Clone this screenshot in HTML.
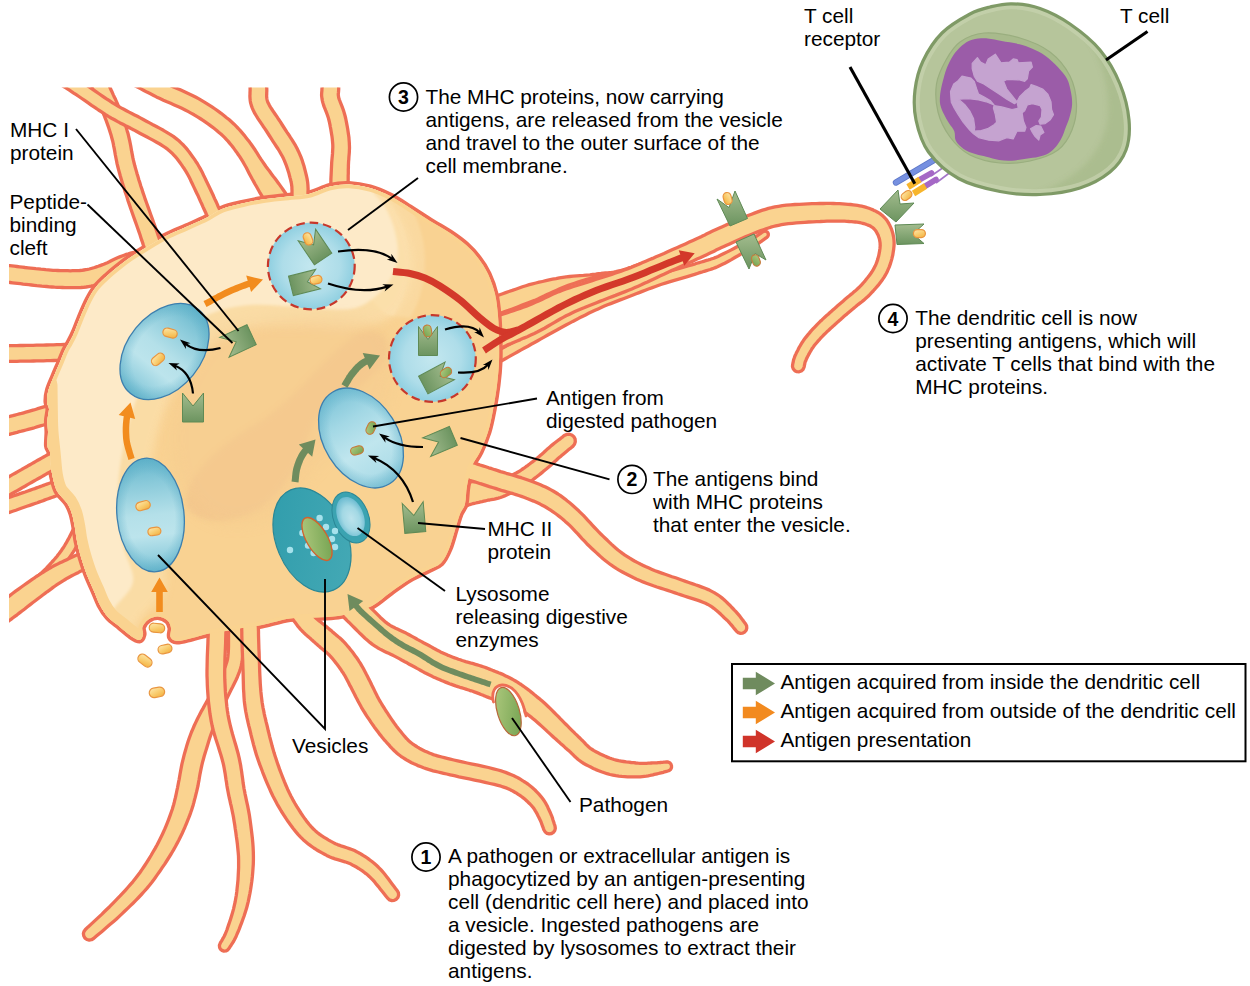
<!DOCTYPE html>
<html lang="en"><head><meta charset="utf-8"><title>Antigen presentation by a dendritic cell</title>
<style>
html,body{margin:0;padding:0;background:#fff;}
body{width:1250px;height:986px;overflow:hidden;font-family:"Liberation Sans",Arial,Helvetica,sans-serif;}
svg{display:block;}
</style></head><body>
<svg width="1250" height="986" viewBox="0 0 1250 986" role="img" aria-label="Antigen presentation by a dendritic cell"><defs>
<clipPath id="cellclip"><rect x="9" y="87.5" width="1241" height="900"/></clipPath>
<radialGradient id="gBlue" cx="0.5" cy="0.55" r="0.62">
 <stop offset="0" stop-color="#BCE3EC"/><stop offset="0.5" stop-color="#A2D8E4"/><stop offset="0.85" stop-color="#6FBDD2"/><stop offset="1" stop-color="#58AEC6"/>
</radialGradient>
<radialGradient id="gBlue2" cx="0.5" cy="0.5" r="0.55">
 <stop offset="0" stop-color="#C3E7EF"/><stop offset="0.6" stop-color="#AEDDE9"/><stop offset="1" stop-color="#86CBDE"/>
</radialGradient>
<linearGradient id="gGreen" x1="0" y1="0" x2="0" y2="1">
 <stop offset="0" stop-color="#A3BC8E"/><stop offset="1" stop-color="#6C9460"/>
</linearGradient>
<linearGradient id="gAnt" x1="0" y1="0" x2="0.6" y2="1">
 <stop offset="0" stop-color="#FDE8B0"/><stop offset="0.5" stop-color="#FAD27A"/><stop offset="1" stop-color="#F5B84A"/>
</linearGradient>
<linearGradient id="gAntG" x1="0" y1="0" x2="1" y2="1">
 <stop offset="0" stop-color="#B2CB80"/><stop offset="1" stop-color="#6FA04E"/>
</linearGradient>
<radialGradient id="gTcell" cx="0.45" cy="0.5" r="0.6">
 <stop offset="0" stop-color="#C3CEA8"/><stop offset="0.75" stop-color="#B7C59C"/><stop offset="1" stop-color="#A9BB8D"/>
</radialGradient>
<linearGradient id="gTeal" x1="0" y1="0" x2="1" y2="1">
 <stop offset="0" stop-color="#2F9CAB"/><stop offset="1" stop-color="#46AAB6"/>
</linearGradient>
<linearGradient id="gBlueL" x1="0" y1="0" x2="0" y2="1">
 <stop offset="0" stop-color="#65B6CC"/><stop offset="0.22" stop-color="#8ACADA"/><stop offset="0.5" stop-color="#B4E0E9"/><stop offset="0.68" stop-color="#BCE4EC"/><stop offset="0.88" stop-color="#93CFDE"/><stop offset="1" stop-color="#6CBACF"/>
</linearGradient>
<linearGradient id="gBlueL3" x1="0" y1="0" x2="0" y2="1">
 <stop offset="0" stop-color="#7CC3D7"/><stop offset="0.3" stop-color="#A3D8E5"/><stop offset="0.6" stop-color="#C0E6EE"/><stop offset="0.85" stop-color="#B0DEE9"/><stop offset="1" stop-color="#8FCDDD"/>
</linearGradient>
<radialGradient id="gEdge" cx="0.5" cy="0.5" r="0.5">
 <stop offset="0" stop-color="#4FA6C2" stop-opacity="0"/><stop offset="0.72" stop-color="#4FA6C2" stop-opacity="0"/><stop offset="1" stop-color="#4FA6C2" stop-opacity="0.38"/>
</radialGradient>
<filter id="blur8" x="-30%" y="-30%" width="160%" height="160%"><feGaussianBlur stdDeviation="7"/></filter>
<filter id="blur5" x="-30%" y="-30%" width="160%" height="160%"><feGaussianBlur stdDeviation="4"/></filter>
<filter id="blur3" x="-30%" y="-30%" width="160%" height="160%"><feGaussianBlur stdDeviation="2.5"/></filter>
<clipPath id="wedge"><path d="M345 170 L520 170 L520 300 C470 318 420 322 385 314 L372 300 L360 262 Z"/></clipPath>
<filter id="blur2" x="-30%" y="-30%" width="160%" height="160%"><feGaussianBlur stdDeviation="1.6"/></filter>
<clipPath id="bodyclip"><path d="M96.0 287.0C99.3 282.8 104.0 278.7 108.0 275.0C112.0 271.3 116.2 268.0 120.0 265.0C123.8 262.0 126.7 259.9 131.0 257.0C135.3 254.1 140.2 251.0 146.0 247.5C151.8 244.0 159.3 239.4 166.0 236.0C172.7 232.6 179.3 230.0 186.0 227.0C192.7 224.0 200.0 221.0 206.0 218.0C212.0 215.0 216.0 211.4 222.0 209.0C228.0 206.6 235.3 205.1 242.0 203.5C248.7 201.9 254.3 200.7 262.0 199.5C269.7 198.3 280.2 197.4 288.0 196.5C295.8 195.6 302.0 195.7 309.0 194.0C316.0 192.3 323.3 188.1 330.0 186.5C336.7 184.9 342.3 184.2 349.0 184.5C355.7 184.8 363.2 186.1 370.0 188.0C376.8 189.9 383.3 192.7 390.0 196.0C396.7 199.3 403.3 203.8 410.0 208.0C416.7 212.2 423.3 216.8 430.0 221.0C436.7 225.2 444.0 229.0 450.0 233.0C456.0 237.0 461.3 240.8 466.0 245.0C470.7 249.2 474.3 253.2 478.0 258.0C481.7 262.8 485.2 268.0 488.0 274.0C490.8 280.0 493.3 287.0 495.0 294.0C496.7 301.0 497.3 308.3 498.0 316.0C498.7 323.7 498.8 332.3 499.0 340.0C499.2 347.7 499.3 354.5 499.0 362.0C498.7 369.5 498.0 377.0 497.0 385.0C496.0 393.0 494.5 402.2 493.0 410.0C491.5 417.8 490.2 425.0 488.0 432.0C485.8 439.0 482.7 446.3 480.0 452.0C477.3 457.7 474.2 460.3 472.0 466.0C469.8 471.7 468.2 479.7 467.0 486.0C465.8 492.3 466.2 499.3 465.0 504.0C463.8 508.7 461.7 509.7 460.0 514.0C458.3 518.3 456.8 524.2 455.0 530.0C453.2 535.8 451.3 543.5 449.0 549.0C446.7 554.5 444.5 559.5 441.0 563.0C437.5 566.5 433.2 567.3 428.0 570.0C422.8 572.7 416.2 575.3 410.0 579.0C403.8 582.7 397.3 587.5 391.0 592.0C384.7 596.5 378.2 602.7 372.0 606.0C365.8 609.3 359.7 610.3 354.0 612.0C348.3 613.7 344.3 615.1 338.0 616.0C331.7 616.9 324.0 617.1 316.0 617.5C308.0 617.9 299.0 617.2 290.0 618.5C281.0 619.8 270.0 623.4 262.0 625.0C254.0 626.6 248.0 627.0 242.0 628.0C236.0 629.0 231.5 630.1 226.0 631.0C220.5 631.9 214.7 632.3 209.0 633.5C203.3 634.7 197.3 636.8 192.0 638.0C186.7 639.2 180.6 641.2 177.0 641.0C173.4 640.8 171.5 639.2 170.5 637.0C169.5 634.8 171.5 630.8 171.0 628.0C170.5 625.2 169.7 622.4 167.5 620.5C165.3 618.6 161.2 616.7 158.0 616.5C154.8 616.3 151.1 617.8 148.5 619.5C145.9 621.2 143.4 624.5 142.5 627.0C141.6 629.5 143.5 632.3 143.0 634.5C142.5 636.7 141.5 639.8 139.5 640.0C137.5 640.2 134.2 638.2 131.0 636.0C127.8 633.8 123.8 630.2 120.0 627.0C116.2 623.8 111.3 620.7 108.0 617.0C104.7 613.3 102.3 609.3 100.0 605.0C97.7 600.7 96.2 596.0 94.0 591.0C91.8 586.0 89.2 580.7 87.0 575.0C84.8 569.3 82.7 562.7 81.0 557.0C79.3 551.3 78.0 545.8 77.0 541.0C76.0 536.2 75.8 532.5 75.0 528.0C74.2 523.5 73.3 518.2 72.0 514.0C70.7 509.8 69.5 506.8 67.0 503.0C64.5 499.2 59.4 495.5 57.0 491.0C54.6 486.5 53.6 480.8 52.5 476.0C51.4 471.2 50.9 466.0 50.5 462.0C50.1 458.0 50.5 454.7 50.0 452.0C49.5 449.3 47.8 449.3 47.5 446.0C47.2 442.7 48.0 436.3 48.0 432.0C48.0 427.7 47.3 423.8 47.5 420.0C47.7 416.2 49.1 412.0 49.0 409.0C48.9 406.0 47.1 405.2 47.0 402.0C46.9 398.8 47.3 394.3 48.5 390.0C49.7 385.7 52.1 380.7 54.0 376.0C55.9 371.3 58.2 366.3 60.0 362.0C61.8 357.7 63.5 353.2 65.0 350.0C66.5 346.8 67.5 345.8 69.0 343.0C70.5 340.2 72.2 337.2 74.0 333.0C75.8 328.8 77.7 323.5 80.0 318.0C82.3 312.5 85.3 305.2 88.0 300.0C90.7 294.8 92.7 291.2 96.0 287.0Z"/></clipPath>
</defs>
<g clip-path="url(#cellclip)"><path d="M126.2 81.2L129.2 82.7L132.1 84.3L135.1 85.8L138.0 87.4L140.9 88.9L143.9 90.5L146.9 92.1L150.0 93.6L153.2 95.2L156.4 96.9L159.9 98.5L163.4 100.2L167.0 101.8L170.7 103.3L174.3 104.9L177.9 106.5L181.3 108.1L184.7 109.7L187.9 111.4L191.0 113.1L194.1 114.8L197.1 116.7L200.1 118.5L203.0 120.4L205.9 122.4L208.7 124.3L211.4 126.3L214.0 128.3L216.4 130.2L218.7 132.2L220.9 134.0L222.9 135.9L224.7 137.7L226.5 139.6L228.2 141.4L229.8 143.4L231.4 145.3L233.1 147.4L234.7 149.6L236.4 151.9L238.0 154.2L239.7 156.6L241.3 159.2L243.0 161.9L244.6 164.7L246.2 167.5L247.7 170.5L249.2 173.4L250.7 176.2L252.2 179.0L253.7 181.6L255.1 184.2L256.6 186.8L258.0 189.3L259.4 191.8L260.8 194.1L262.1 196.4L263.4 198.6L264.6 200.8L265.8 202.8L266.8 204.7L267.8 206.5L268.7 208.2L269.6 209.9L270.4 211.6L271.3 213.2L272.1 214.8L273.0 216.5L273.9 218.2L274.8 220.0L277.8 223.4L282.0 225.5L286.6 225.7L291.0 224.2L294.4 221.2L296.5 217.0L296.7 212.4L295.2 208.0L294.2 206.4L293.2 204.9L292.2 203.3L291.2 201.8L290.2 200.2L289.1 198.5L288.0 196.8L286.8 195.1L285.6 193.2L284.2 191.2L282.8 189.2L281.3 187.1L279.7 184.9L278.1 182.7L276.5 180.5L274.8 178.2L273.0 176.0L271.3 173.7L269.6 171.3L267.8 169.0L266.1 166.7L264.4 164.2L262.6 161.6L260.7 158.9L258.9 156.1L257.1 153.2L255.3 150.3L253.4 147.5L251.5 144.8L249.6 142.1L247.7 139.7L245.9 137.4L244.1 135.1L242.2 132.9L240.3 130.7L238.3 128.5L236.3 126.4L234.1 124.2L231.7 122.0L229.3 119.8L226.6 117.7L223.9 115.5L221.1 113.3L218.1 111.2L215.1 109.0L212.0 106.9L208.8 104.9L205.6 102.9L202.3 100.9L199.0 98.9L195.5 97.0L191.9 95.2L188.2 93.5L184.5 91.8L180.8 90.1L177.2 88.5L173.6 86.9L170.1 85.4L166.8 83.9L163.6 82.3L160.4 80.8L157.4 79.2L154.4 77.7L151.4 76.1L148.5 74.6L145.6 73.0L142.6 71.5L139.7 69.9L136.7 68.4L133.8 66.8Z" fill="#FAD390" stroke="#EE6E55" stroke-width="3.3" stroke-linejoin="round"/>
<path d="M322.7 69.7L322.6 71.5L322.5 73.3L322.5 75.2L322.4 77.0L322.3 78.9L322.2 80.7L322.2 82.5L322.1 84.2L322.1 85.9L322.1 87.4L322.0 88.5L321.9 89.5L321.9 90.5L321.8 91.5L321.7 92.7L321.6 94.1L321.6 95.6L321.8 97.2L322.0 98.9L322.4 100.8L322.9 102.9L323.5 104.9L324.2 106.9L325.0 108.8L325.7 110.7L326.5 112.6L327.2 114.5L327.8 116.3L328.4 118.1L328.9 120.0L329.4 122.1L329.9 124.4L330.3 126.7L330.8 129.2L331.2 131.7L331.6 134.2L332.0 136.6L332.3 139.0L332.5 141.3L332.7 143.5L332.8 145.5L332.8 147.5L332.7 149.6L332.6 151.6L332.5 153.7L332.3 155.8L332.1 157.9L331.9 160.1L331.7 162.4L331.6 164.6L331.5 166.8L331.4 168.9L331.3 171.0L331.2 173.1L331.1 175.2L331.0 177.2L330.9 179.2L330.9 181.1L330.8 183.0L330.7 184.8L330.7 186.5L330.6 188.1L330.5 189.6L330.5 191.1L330.4 192.6L330.4 194.0L330.3 195.4L330.3 196.9L330.2 198.3L330.2 199.8L330.7 203.2L332.6 206.1L335.4 208.1L338.8 208.8L342.2 208.3L345.1 206.4L347.1 203.6L347.8 200.2L347.9 198.8L347.9 197.3L347.9 195.9L347.9 194.5L348.0 193.0L348.0 191.6L348.0 190.1L348.0 188.6L348.0 186.9L348.1 185.2L348.1 183.5L348.1 181.6L348.2 179.7L348.2 177.7L348.2 175.7L348.3 173.6L348.3 171.6L348.3 169.5L348.4 167.4L348.4 165.4L348.5 163.4L348.6 161.4L348.8 159.3L348.9 157.2L349.1 154.9L349.3 152.6L349.4 150.2L349.5 147.7L349.4 145.1L349.3 142.5L349.1 139.8L348.9 137.2L348.5 134.4L348.1 131.7L347.7 129.0L347.2 126.2L346.7 123.6L346.2 121.0L345.7 118.5L345.1 116.0L344.4 113.5L343.7 111.1L342.9 108.8L342.1 106.6L341.3 104.6L340.5 102.7L339.9 101.0L339.3 99.5L338.9 98.2L338.6 97.2L338.5 96.2L338.4 95.5L338.3 94.9L338.3 94.3L338.3 93.7L338.4 93.0L338.5 92.0L338.6 90.8L338.7 89.4L338.7 87.8L338.8 86.3L338.8 84.7L338.9 83.1L338.9 81.3L339.0 79.5L339.1 77.7L339.1 75.8L339.2 73.9L339.3 72.1L339.3 70.3Z" fill="#FAD390" stroke="#EE6E55" stroke-width="3.3" stroke-linejoin="round"/>
<path d="M-5.6 281.3L-4.2 281.4L-2.9 281.5L-1.6 281.6L-0.4 281.6L0.7 281.7L2.0 281.8L3.3 281.9L4.7 282.0L6.3 282.1L8.2 282.3L10.2 282.5L12.5 282.8L15.0 283.1L17.6 283.4L20.3 283.7L23.1 284.1L25.9 284.4L28.7 284.7L31.5 285.0L34.2 285.3L36.7 285.6L39.2 285.8L41.8 286.1L44.3 286.3L46.8 286.5L49.4 286.8L51.9 287.0L54.5 287.2L57.1 287.3L59.7 287.4L62.3 287.5L64.9 287.6L67.5 287.6L70.2 287.7L72.9 287.7L75.6 287.7L78.2 287.6L80.9 287.5L83.5 287.3L86.1 287.0L88.6 286.6L91.0 286.2L93.3 285.7L95.6 285.1L97.7 284.5L99.8 283.9L101.9 283.2L103.9 282.5L105.9 281.8L108.0 281.1L110.2 280.2L112.5 279.2L114.6 278.3L116.7 277.3L118.8 276.3L120.8 275.3L122.7 274.4L124.5 273.5L126.3 272.7L128.0 272.0L129.8 271.4L131.7 270.8L133.5 270.2L135.4 269.6L137.3 269.1L139.3 268.5L141.3 268.0L143.3 267.4L145.4 266.9L147.4 266.3L150.4 264.7L152.5 262.1L153.6 258.9L153.3 255.6L151.7 252.6L149.1 250.5L145.9 249.4L142.6 249.7L140.6 250.3L138.7 250.9L136.7 251.4L134.7 252.0L132.7 252.5L130.6 253.1L128.5 253.8L126.3 254.4L124.2 255.2L122.0 256.0L119.7 256.9L117.5 257.8L115.3 258.8L113.2 259.8L111.2 260.8L109.3 261.8L107.4 262.7L105.5 263.5L103.8 264.3L102.0 264.9L100.1 265.6L98.2 266.3L96.4 266.9L94.6 267.5L92.9 268.0L91.2 268.5L89.4 269.0L87.6 269.4L85.8 269.7L83.9 270.0L81.9 270.3L79.7 270.5L77.5 270.6L75.2 270.7L72.7 270.7L70.3 270.8L67.8 270.7L65.3 270.7L62.8 270.6L60.3 270.6L57.9 270.5L55.5 270.4L53.1 270.3L50.7 270.1L48.3 269.9L45.8 269.7L43.4 269.4L40.9 269.2L38.4 268.9L35.8 268.7L33.3 268.4L30.6 268.1L27.9 267.8L25.1 267.5L22.3 267.1L19.6 266.8L16.9 266.5L14.4 266.2L12.0 265.9L9.8 265.7L7.9 265.5L6.1 265.4L4.5 265.2L3.1 265.1L1.8 265.0L0.5 265.0L-0.7 264.9L-1.9 264.8L-3.1 264.8L-4.4 264.7Z" fill="#FAD390" stroke="#EE6E55" stroke-width="3.3" stroke-linejoin="round"/>
<path d="M-5.0 361.3L-3.7 361.4L-2.5 361.4L-1.4 361.4L-0.3 361.4L0.9 361.4L2.2 361.4L3.6 361.4L5.2 361.4L7.0 361.4L9.1 361.3L11.5 361.3L14.1 361.3L17.0 361.3L20.1 361.2L23.3 361.2L26.6 361.1L30.0 361.1L33.4 361.0L36.8 360.9L40.2 360.8L43.5 360.8L47.0 360.7L50.4 360.6L53.9 360.5L57.5 360.4L61.0 360.3L64.6 360.2L68.2 360.1L71.7 359.9L75.2 359.8L78.2 359.2L80.7 357.4L82.3 354.8L82.8 351.8L82.2 348.8L80.4 346.3L77.8 344.7L74.8 344.2L71.3 344.3L67.7 344.4L64.1 344.5L60.6 344.6L57.0 344.7L53.5 344.8L50.0 344.9L46.5 345.0L43.1 345.1L39.8 345.2L36.5 345.2L33.1 345.3L29.7 345.4L26.4 345.4L23.1 345.5L19.9 345.5L16.8 345.6L13.9 345.6L11.3 345.6L8.9 345.7L6.8 345.7L5.1 345.7L3.5 345.7L2.2 345.7L1.0 345.7L-0.2 345.7L-1.3 345.7L-2.4 345.7L-3.7 345.7L-5.0 345.7Z" fill="#FAD390" stroke="#EE6E55" stroke-width="3.3" stroke-linejoin="round"/>
<path d="M-2.9 437.3L-1.6 437.0L-0.2 436.7L1.0 436.4L2.3 436.0L3.6 435.7L5.0 435.4L6.4 435.0L7.9 434.7L9.4 434.3L11.1 433.8L13.0 433.4L15.0 432.8L17.1 432.3L19.2 431.7L21.5 431.2L23.7 430.6L26.0 430.0L28.2 429.4L30.3 428.8L32.3 428.3L34.2 427.8L36.0 427.2L37.8 426.7L39.5 426.2L41.2 425.7L42.8 425.2L44.4 424.7L46.0 424.2L47.7 423.8L49.4 423.3L51.1 422.8L52.9 422.3L54.6 421.8L56.4 421.3L58.2 420.8L60.0 420.3L61.9 419.8L63.7 419.3L65.5 418.8L67.3 418.3L70.3 416.8L72.5 414.2L73.5 411.0L73.3 407.7L71.8 404.7L69.2 402.5L66.0 401.5L62.7 401.7L60.9 402.2L59.1 402.7L57.3 403.2L55.5 403.7L53.6 404.2L51.8 404.7L50.0 405.2L48.2 405.7L46.4 406.2L44.6 406.7L42.9 407.2L41.2 407.7L39.5 408.2L37.8 408.7L36.2 409.2L34.6 409.7L32.9 410.2L31.2 410.7L29.5 411.2L27.7 411.7L25.8 412.2L23.7 412.8L21.6 413.4L19.4 413.9L17.1 414.5L14.9 415.1L12.8 415.7L10.7 416.2L8.7 416.7L6.9 417.2L5.2 417.6L3.6 418.0L2.2 418.4L0.8 418.7L-0.5 419.0L-1.8 419.3L-3.1 419.7L-4.4 420.0L-5.7 420.3L-7.1 420.7Z" fill="#FAD390" stroke="#EE6E55" stroke-width="3.3" stroke-linejoin="round"/>
<path d="M-2.8 516.3L-1.5 515.8L-0.3 515.4L0.9 515.1L2.1 514.7L3.4 514.3L4.7 513.9L6.1 513.4L7.6 512.9L9.4 512.4L11.3 511.7L13.4 511.0L15.9 510.2L18.5 509.3L21.2 508.3L24.1 507.3L26.9 506.3L29.7 505.4L32.5 504.4L35.0 503.5L37.4 502.7L39.5 501.9L41.5 501.2L43.3 500.6L45.0 499.9L46.7 499.3L48.3 498.7L50.0 498.1L51.7 497.5L53.5 496.9L55.3 496.2L57.4 495.5L59.5 494.8L61.6 494.0L63.8 493.3L66.0 492.5L68.3 491.8L70.5 491.0L72.8 490.2L75.1 489.5L77.3 488.7L79.7 487.3L81.4 485.1L82.1 482.5L81.7 479.7L80.3 477.3L78.1 475.6L75.5 474.9L72.7 475.3L70.5 476.0L68.3 476.8L66.0 477.6L63.7 478.3L61.5 479.1L59.2 479.8L57.0 480.6L54.8 481.3L52.7 482.1L50.7 482.8L48.7 483.5L46.9 484.1L45.1 484.8L43.5 485.4L41.8 486.0L40.1 486.6L38.4 487.2L36.6 487.9L34.7 488.6L32.6 489.3L30.3 490.1L27.8 491.0L25.1 492.0L22.3 492.9L19.4 493.9L16.6 494.9L13.9 495.8L11.3 496.7L8.9 497.5L6.7 498.3L4.9 498.9L3.2 499.4L1.7 499.9L0.4 500.4L-0.9 500.8L-2.1 501.1L-3.3 501.5L-4.5 501.9L-5.8 502.3L-7.2 502.7Z" fill="#FAD390" stroke="#EE6E55" stroke-width="3.3" stroke-linejoin="round"/>
<path d="M28.6 599.0L30.6 597.2L32.6 595.4L34.7 593.6L36.8 591.7L38.9 589.9L40.9 588.0L43.0 586.2L44.9 584.4L46.9 582.6L48.7 580.8L50.5 579.1L52.2 577.4L53.9 575.7L55.5 574.1L57.0 572.4L58.5 570.8L60.0 569.2L61.4 567.6L62.8 566.0L64.1 564.4L65.4 562.9L66.5 561.5L67.6 560.1L68.7 558.7L69.7 557.3L70.6 555.9L71.6 554.5L72.6 553.0L73.6 551.4L74.6 549.8L75.6 548.0L76.7 546.1L77.7 544.2L78.7 542.2L79.8 540.2L80.8 538.3L81.8 536.3L82.8 534.3L83.8 532.4L84.7 530.5L85.3 528.5L85.1 526.4L84.1 524.6L82.5 523.3L80.5 522.7L78.4 522.9L76.6 523.9L75.3 525.5L74.2 527.5L73.2 529.5L72.2 531.4L71.2 533.4L70.2 535.4L69.3 537.3L68.3 539.2L67.3 540.9L66.4 542.6L65.4 544.2L64.5 545.8L63.6 547.2L62.7 548.5L61.8 549.8L61.0 551.1L60.1 552.3L59.1 553.6L58.1 554.8L57.1 556.2L55.9 557.6L54.7 559.0L53.4 560.5L52.0 562.0L50.7 563.5L49.2 565.1L47.7 566.7L46.2 568.3L44.6 569.9L43.0 571.5L41.3 573.2L39.5 574.8L37.7 576.5L35.8 578.3L33.8 580.1L31.8 581.9L29.7 583.7L27.6 585.5L25.5 587.4L23.5 589.2L21.4 591.0Z" fill="#FAD390" stroke="#EE6E55" stroke-width="3.3" stroke-linejoin="round"/>
<path d="M0.9 626.9L2.3 625.9L3.5 624.9L4.7 624.0L5.9 623.1L7.2 622.2L8.4 621.2L9.8 620.2L11.3 619.1L13.0 617.8L14.9 616.4L17.1 614.8L19.5 612.9L22.0 611.0L24.7 609.0L27.4 606.8L30.2 604.6L32.9 602.5L35.6 600.5L38.2 598.5L40.6 596.7L42.8 595.0L45.0 593.4L47.1 591.8L49.2 590.3L51.2 588.9L53.1 587.4L55.1 586.0L57.0 584.7L59.0 583.4L61.0 582.1L63.0 580.8L65.2 579.5L67.3 578.2L69.6 577.0L71.8 575.8L74.1 574.6L76.3 573.5L78.5 572.4L80.5 571.3L82.5 570.4L84.3 569.5L86.0 568.7L87.5 567.9L89.0 567.2L90.5 566.6L92.0 565.9L93.5 565.3L95.0 564.6L96.5 563.9L98.1 563.2L100.6 561.5L102.3 558.9L102.8 555.9L102.2 552.9L100.5 550.4L97.9 548.7L94.9 548.2L91.9 548.8L90.3 549.4L88.8 550.0L87.3 550.6L85.8 551.2L84.3 551.9L82.7 552.5L81.0 553.2L79.3 554.0L77.4 554.8L75.5 555.6L73.5 556.6L71.3 557.6L69.1 558.6L66.8 559.7L64.4 560.8L61.9 562.0L59.4 563.1L56.9 564.4L54.5 565.6L52.0 566.9L49.7 568.2L47.4 569.6L45.2 570.9L43.0 572.3L40.8 573.6L38.6 575.1L36.3 576.5L34.1 578.1L31.8 579.6L29.4 581.3L26.9 583.1L24.2 585.0L21.4 587.0L18.5 589.1L15.6 591.2L12.8 593.3L10.1 595.3L7.5 597.2L5.2 599.0L3.1 600.6L1.2 602.0L-0.5 603.3L-2.0 604.4L-3.4 605.5L-4.7 606.4L-5.9 607.4L-7.1 608.3L-8.3 609.2L-9.6 610.1L-10.9 611.1Z" fill="#FAD390" stroke="#EE6E55" stroke-width="3.3" stroke-linejoin="round"/>
<path d="M459.0 509.2L460.3 508.6L461.7 508.0L463.0 507.4L464.2 506.9L465.3 506.4L466.4 505.9L467.5 505.5L468.5 505.0L469.6 504.7L470.6 504.3L471.7 504.0L473.0 503.6L474.3 503.3L475.8 503.0L477.3 502.6L478.8 502.3L480.5 501.9L482.1 501.6L483.8 501.2L485.4 500.8L486.8 500.5L488.1 500.2L489.6 500.0L491.1 499.7L492.8 499.4L494.5 499.1L496.4 498.6L498.4 498.1L500.5 497.5L502.6 496.7L504.6 495.9L506.6 495.0L508.7 494.0L510.8 493.0L512.9 491.9L515.1 490.8L517.3 489.7L519.5 488.5L521.7 487.3L523.8 486.0L526.0 484.6L528.2 483.1L530.3 481.6L532.5 480.0L534.6 478.4L536.7 476.8L538.7 475.2L540.7 473.6L542.6 472.1L544.4 470.5L546.3 469.0L548.1 467.5L549.9 466.0L551.6 464.5L553.2 463.0L554.8 461.5L556.3 460.2L557.8 458.8L559.2 457.6L560.6 456.4L561.9 455.3L563.2 454.2L564.4 453.2L565.6 452.2L566.8 451.2L567.9 450.3L569.1 449.3L570.3 448.4L571.5 447.4L572.8 446.4L574.5 444.3L575.3 441.8L575.1 439.1L573.9 436.7L571.8 435.0L569.3 434.2L566.6 434.4L564.2 435.6L563.0 436.6L561.8 437.5L560.6 438.4L559.4 439.4L558.2 440.3L556.9 441.3L555.6 442.3L554.3 443.3L552.9 444.4L551.4 445.6L549.9 446.9L548.4 448.2L546.8 449.6L545.3 451.0L543.7 452.5L542.1 453.9L540.5 455.3L538.9 456.7L537.3 458.1L535.6 459.5L533.7 460.9L531.8 462.3L529.9 463.8L527.9 465.3L525.9 466.7L523.9 468.2L521.9 469.5L520.0 470.8L518.0 472.0L516.2 473.0L514.3 474.0L512.4 475.0L510.4 475.9L508.5 476.8L506.6 477.6L504.6 478.3L502.7 478.9L500.9 479.4L499.1 479.9L497.4 480.3L496.0 480.5L494.7 480.7L493.4 480.8L492.1 480.9L490.7 480.9L489.3 480.9L487.8 480.9L486.1 481.0L484.4 481.1L482.6 481.2L481.0 481.3L479.4 481.4L477.8 481.4L476.1 481.5L474.4 481.6L472.6 481.7L470.8 481.9L469.0 482.1L467.2 482.4L465.4 482.7L463.6 483.1L461.9 483.5L460.3 484.0L458.7 484.4L457.3 484.9L455.9 485.3L454.6 485.7L453.4 486.1L452.2 486.5L451.0 486.8Z" fill="#FAD390" stroke="#EE6E55" stroke-width="3.3" stroke-linejoin="round"/>
<path d="M482.5 318.5L484.4 317.9L486.2 317.4L488.0 316.9L489.8 316.4L491.7 315.8L493.6 315.3L495.7 314.7L497.9 314.0L500.3 313.2L502.8 312.4L505.6 311.4L508.6 310.4L511.7 309.2L514.9 308.0L518.2 306.7L521.6 305.4L524.9 304.1L528.3 302.8L531.5 301.6L534.7 300.4L537.9 299.0L540.9 297.5L544.0 296.1L547.1 294.6L550.1 293.2L553.2 291.8L556.2 290.4L559.2 289.1L562.2 287.8L565.2 286.6L568.3 285.4L571.4 284.3L574.6 283.2L577.9 282.1L581.1 281.1L584.4 280.1L587.5 279.1L590.6 278.4L593.5 277.7L596.3 276.9L598.8 276.3L601.2 275.7L603.5 275.2L605.7 274.7L607.7 274.3L609.8 273.8L611.8 273.3L613.8 272.8L615.9 272.3L618.1 271.8L620.3 271.1L622.5 270.4L624.6 269.6L626.8 268.8L629.0 268.0L631.2 267.2L633.4 266.3L635.6 265.5L637.8 264.7L640.0 263.9L640.0 264.1L637.8 264.9L635.6 265.6L633.4 266.4L631.2 267.2L629.0 267.9L626.8 268.7L624.6 269.4L622.3 270.0L620.1 270.7L617.9 271.2L615.8 271.7L613.7 272.1L611.6 272.4L609.6 272.6L607.5 272.8L605.4 273.0L603.2 273.2L600.9 273.5L598.4 273.7L595.7 274.1L592.9 274.4L589.9 274.8L586.8 275.1L583.5 275.4L580.1 275.6L576.7 275.9L573.2 276.2L569.7 276.5L566.2 276.9L562.8 277.4L559.4 277.9L556.0 278.6L552.6 279.2L549.2 279.9L545.9 280.7L542.5 281.5L539.2 282.2L535.9 283.0L532.5 283.8L529.3 284.6L525.9 285.7L522.5 286.8L519.1 288.0L515.7 289.2L512.3 290.4L508.9 291.5L505.7 292.6L502.7 293.7L499.8 294.7L497.2 295.6L494.8 296.4L492.6 297.1L490.5 297.7L488.6 298.3L486.8 298.8L485.0 299.4L483.2 299.9L481.4 300.4L479.5 300.9L477.5 301.5Z" fill="#FAD390" stroke="#EE6E55" stroke-width="3.3" stroke-linejoin="round"/>
<path d="M482.7 371.6L484.6 370.5L486.5 369.4L488.3 368.4L490.1 367.3L491.9 366.3L493.8 365.2L495.8 364.0L497.9 362.8L500.1 361.6L502.6 360.2L505.3 358.7L508.2 357.1L511.3 355.4L514.5 353.6L517.8 351.8L521.1 349.9L524.5 348.0L527.9 346.2L531.2 344.3L534.5 342.5L537.7 340.7L540.9 338.9L544.1 337.1L547.3 335.3L550.5 333.5L553.7 331.7L556.9 330.0L560.0 328.2L563.2 326.5L566.4 324.8L569.6 323.1L572.8 321.4L576.0 319.8L579.1 318.1L582.3 316.5L585.5 314.9L588.6 313.3L591.8 311.8L595.0 310.3L598.1 308.9L601.2 307.5L604.4 306.1L607.5 304.8L610.7 303.6L613.8 302.4L617.0 301.1L620.2 299.9L623.4 298.7L626.6 297.5L629.8 296.3L633.0 295.0L636.1 293.8L639.2 292.6L642.3 291.4L645.3 290.2L648.4 289.0L651.6 287.9L654.8 286.7L658.1 285.5L661.6 284.3L665.3 283.1L669.3 281.9L673.5 280.6L677.8 279.4L682.2 278.1L686.5 276.8L690.6 275.6L694.6 274.4L698.2 273.2L701.5 272.2L704.2 271.3L706.5 270.6L708.5 270.0L710.3 269.5L712.0 268.9L713.7 268.3L715.4 267.6L717.4 266.8L719.5 265.8L722.0 264.6L724.8 263.2L728.0 261.5L731.4 259.6L734.9 257.5L738.5 255.5L742.0 253.4L745.4 251.4L748.5 249.4L751.4 247.7L753.9 246.2L755.9 244.9L757.7 243.8L759.2 242.8L760.5 241.9L761.7 241.1L762.7 240.3L763.7 239.6L764.7 238.9L765.7 238.1L766.9 237.3L767.8 236.4L768.3 235.2L768.3 233.9L767.8 232.6L766.9 231.7L765.7 231.2L764.4 231.2L763.1 231.7L761.9 232.5L760.7 233.3L759.7 234.0L758.7 234.6L757.7 235.3L756.6 236.0L755.4 236.8L753.9 237.7L752.2 238.6L750.1 239.8L747.6 241.1L744.7 242.7L741.5 244.5L738.0 246.3L734.4 248.2L730.8 250.1L727.3 251.9L723.9 253.6L720.8 255.1L718.0 256.4L715.7 257.4L713.7 258.2L712.0 258.8L710.5 259.3L709.0 259.7L707.5 260.2L705.7 260.7L703.7 261.3L701.3 262.0L698.5 262.8L695.3 263.8L691.7 264.8L687.8 265.9L683.6 267.1L679.3 268.3L674.9 269.6L670.6 270.9L666.3 272.1L662.2 273.4L658.4 274.7L654.8 275.9L651.4 277.1L648.1 278.3L644.8 279.5L641.7 280.7L638.6 281.9L635.5 283.1L632.4 284.3L629.3 285.5L626.2 286.7L623.0 288.0L619.8 289.2L616.6 290.4L613.4 291.6L610.2 292.8L606.9 294.1L603.7 295.4L600.4 296.7L597.2 298.1L593.9 299.5L590.6 301.0L587.4 302.6L584.2 304.2L580.9 305.8L577.7 307.4L574.5 309.1L571.2 310.7L568.0 312.4L564.8 314.1L561.6 315.8L558.4 317.5L555.2 319.3L551.9 321.0L548.7 322.8L545.5 324.6L542.3 326.4L539.1 328.2L535.9 330.0L532.7 331.8L529.5 333.5L526.3 335.3L522.9 337.1L519.5 338.9L516.1 340.7L512.7 342.5L509.4 344.3L506.2 346.0L503.1 347.7L500.1 349.3L497.4 350.8L494.9 352.2L492.6 353.5L490.5 354.7L488.5 355.9L486.6 357.0L484.7 358.1L482.9 359.1L481.1 360.2L479.3 361.2L477.3 362.4Z" fill="#FAD390" stroke="#EE6E55" stroke-width="3.3" stroke-linejoin="round"/>
<path d="M487.1 355.7L489.1 354.7L491.0 353.7L492.8 352.7L494.6 351.7L496.3 350.7L498.0 349.8L499.8 348.8L501.7 347.9L503.8 346.8L506.0 345.8L508.4 344.6L511.1 343.5L514.0 342.2L517.1 340.9L520.4 339.6L523.8 338.1L527.3 336.7L530.8 335.1L534.3 333.5L537.7 331.8L541.1 330.0L544.5 328.2L547.8 326.3L551.0 324.4L554.1 322.6L557.2 320.8L560.2 319.0L563.2 317.4L566.1 315.8L569.0 314.4L571.9 313.0L574.9 311.6L577.9 310.3L580.9 309.0L584.0 307.8L587.1 306.5L590.2 305.3L593.4 304.0L596.6 302.7L599.8 301.4L602.9 300.2L606.0 299.0L609.1 297.8L612.3 296.6L615.5 295.4L618.7 294.1L621.9 292.9L625.2 291.6L628.5 290.3L631.8 289.0L635.0 287.6L638.2 286.2L641.3 284.8L644.4 283.3L647.5 281.9L650.6 280.4L653.8 278.9L657.0 277.4L660.4 275.8L663.9 274.2L667.6 272.4L671.6 270.6L675.9 268.7L680.2 266.7L684.6 264.7L688.9 262.8L693.1 260.9L697.0 259.1L700.7 257.5L703.9 256.0L706.7 254.7L709.1 253.6L711.2 252.6L713.0 251.7L714.6 250.9L716.2 250.1L717.8 249.3L719.5 248.5L721.5 247.6L723.9 246.5L726.6 245.3L729.6 243.9L732.7 242.5L736.0 241.0L739.3 239.5L742.7 238.0L746.0 236.5L749.3 235.2L752.4 233.9L755.3 232.7L758.2 231.6L760.9 230.6L763.5 229.7L766.0 228.8L768.4 228.0L770.8 227.2L773.2 226.5L775.8 225.9L778.6 225.3L781.5 224.7L784.8 224.2L788.4 223.7L792.3 223.3L796.3 222.9L800.5 222.6L804.6 222.3L808.8 222.0L812.8 221.8L816.7 221.6L820.3 221.5L823.7 221.3L827.0 221.2L830.1 221.2L833.2 221.1L836.2 221.1L839.1 221.1L841.8 221.2L844.5 221.2L846.9 221.3L849.3 221.5L851.5 221.6L853.5 221.8L855.3 222.0L857.0 222.2L858.5 222.4L860.0 222.7L861.4 223.0L862.7 223.3L863.9 223.6L865.2 224.0L866.5 224.5L867.7 224.9L868.8 225.4L869.8 225.8L870.7 226.3L871.5 226.8L872.3 227.3L872.9 227.8L873.6 228.3L874.2 229.0L874.8 229.7L875.5 230.5L876.1 231.4L876.7 232.5L877.3 233.6L877.9 234.7L878.4 235.9L878.8 237.1L879.2 238.2L879.5 239.4L879.7 240.5L879.9 241.7L880.1 242.9L880.1 244.2L880.2 245.5L880.1 246.8L880.0 248.2L879.8 249.6L879.6 251.1L879.3 252.6L879.0 254.2L878.7 255.8L878.2 257.4L877.8 259.1L877.3 260.7L876.7 262.3L876.1 263.9L875.4 265.5L874.6 267.1L873.8 268.7L872.8 270.3L871.8 272.0L870.6 273.7L869.3 275.5L867.9 277.3L866.5 279.0L865.1 280.8L863.6 282.5L862.2 284.1L860.8 285.6L859.5 287.0L858.1 288.3L856.8 289.5L855.4 290.7L853.9 291.9L852.5 293.2L851.0 294.4L849.4 295.7L847.8 297.0L846.3 298.3L844.8 299.6L843.3 300.9L841.8 302.2L840.3 303.5L838.8 304.8L837.3 306.1L835.8 307.4L834.3 308.8L832.8 310.1L831.2 311.5L829.7 312.8L828.2 314.2L826.6 315.6L825.0 317.0L823.5 318.4L821.9 319.9L820.3 321.3L818.8 322.8L817.3 324.3L815.9 325.8L814.5 327.3L813.2 328.7L811.8 330.2L810.5 331.6L809.3 333.1L808.0 334.6L806.8 336.1L805.6 337.6L804.5 339.1L803.4 340.6L802.3 342.2L801.3 343.8L800.4 345.4L799.4 347.0L798.6 348.6L797.8 350.2L797.0 351.7L796.3 353.1L795.7 354.4L795.1 355.6L794.6 356.9L794.2 358.1L793.8 359.2L793.5 360.2L793.3 361.2L793.2 362.0L793.0 362.7L792.9 363.3L792.8 363.9L792.6 364.6L792.5 366.8L793.3 369.0L794.8 370.7L796.9 371.7L799.1 371.8L801.3 371.0L803.0 369.5L804.0 367.4L804.2 366.6L804.4 365.7L804.5 364.9L804.7 364.2L804.8 363.6L804.9 363.0L805.0 362.5L805.2 361.9L805.5 361.2L805.9 360.4L806.3 359.3L806.9 358.1L807.5 356.8L808.2 355.5L808.9 354.1L809.7 352.7L810.5 351.3L811.3 350.0L812.1 348.6L813.0 347.4L813.9 346.1L814.9 344.8L816.0 343.5L817.1 342.2L818.2 340.9L819.4 339.6L820.6 338.2L821.9 336.9L823.2 335.5L824.5 334.2L825.9 332.9L827.2 331.5L828.7 330.2L830.2 328.8L831.7 327.4L833.2 326.1L834.7 324.7L836.3 323.3L837.8 321.9L839.4 320.5L840.9 319.2L842.3 317.9L843.8 316.6L845.3 315.3L846.8 314.1L848.3 312.8L849.8 311.5L851.3 310.2L852.8 309.0L854.3 307.7L855.8 306.5L857.2 305.3L858.7 304.1L860.3 302.9L861.9 301.7L863.5 300.4L865.1 299.0L866.7 297.6L868.4 296.0L870.0 294.4L871.6 292.7L873.2 291.0L874.8 289.2L876.4 287.3L878.1 285.4L879.6 283.4L881.1 281.4L882.6 279.4L884.0 277.3L885.2 275.3L886.4 273.2L887.4 271.2L888.3 269.1L889.2 267.1L889.9 265.1L890.6 263.1L891.2 261.1L891.8 259.1L892.2 257.2L892.7 255.4L893.0 253.5L893.3 251.6L893.6 249.8L893.8 247.9L894.0 246.0L894.1 244.1L894.1 242.3L894.0 240.4L893.8 238.5L893.5 236.6L893.1 234.7L892.7 232.9L892.1 231.0L891.5 229.2L890.7 227.4L889.9 225.6L889.0 223.9L888.0 222.2L887.0 220.6L885.8 219.0L884.5 217.6L883.2 216.3L881.7 215.0L880.3 213.9L878.8 212.9L877.2 212.0L875.6 211.1L874.0 210.4L872.4 209.6L870.8 209.0L869.0 208.3L867.3 207.7L865.5 207.1L863.6 206.6L861.7 206.2L859.7 205.8L857.6 205.4L855.5 205.1L853.2 204.8L850.7 204.5L848.1 204.3L845.4 204.1L842.6 203.9L839.6 203.7L836.5 203.6L833.4 203.5L830.1 203.4L826.7 203.4L823.2 203.5L819.7 203.5L816.0 203.6L812.1 203.7L807.9 203.9L803.6 204.1L799.3 204.3L794.9 204.5L790.6 204.9L786.4 205.2L782.3 205.7L778.5 206.3L774.9 206.9L771.6 207.7L768.4 208.4L765.5 209.3L762.6 210.2L759.8 211.1L757.1 212.1L754.4 213.1L751.6 214.2L748.7 215.3L745.5 216.5L742.1 217.9L738.6 219.3L735.1 220.9L731.7 222.4L728.3 223.9L725.0 225.5L721.8 226.9L718.8 228.3L716.1 229.5L713.7 230.6L711.6 231.6L709.7 232.5L708.0 233.3L706.4 234.1L704.8 234.9L703.0 235.7L701.1 236.7L698.8 237.8L696.1 239.0L692.9 240.5L689.3 242.1L685.4 243.9L681.2 245.8L676.9 247.7L672.6 249.6L668.2 251.6L664.0 253.5L659.9 255.2L656.1 256.8L652.6 258.4L649.1 259.8L645.8 261.2L642.6 262.6L639.5 263.9L636.4 265.2L633.4 266.5L630.4 267.7L627.3 268.9L624.2 270.0L621.1 271.2L618.0 272.3L614.9 273.3L611.7 274.4L608.5 275.4L605.3 276.4L602.1 277.4L598.8 278.4L595.5 279.5L592.2 280.6L589.0 281.6L585.8 282.6L582.6 283.6L579.3 284.6L576.0 285.7L572.7 286.7L569.3 287.9L565.9 289.0L562.5 290.3L559.0 291.6L555.5 293.1L552.0 294.6L548.6 296.2L545.2 297.8L541.9 299.4L538.6 300.9L535.4 302.3L532.3 303.7L529.3 305.0L526.3 306.2L523.2 307.3L520.1 308.4L516.8 309.5L513.4 310.7L510.1 311.8L506.7 312.9L503.4 313.9L500.2 315.0L497.0 316.1L494.0 317.2L491.3 318.3L488.7 319.3L486.4 320.3L484.2 321.2L482.2 322.1L480.3 323.0L478.4 323.8L476.6 324.6L474.8 325.4L472.9 326.3Z" fill="#FAD390" stroke="#EE6E55" stroke-width="3.3" stroke-linejoin="round"/>
<path d="M96.0 287.0C99.3 282.8 104.0 278.7 108.0 275.0C112.0 271.3 116.2 268.0 120.0 265.0C123.8 262.0 126.7 259.9 131.0 257.0C135.3 254.1 140.2 251.0 146.0 247.5C151.8 244.0 159.3 239.4 166.0 236.0C172.7 232.6 179.3 230.0 186.0 227.0C192.7 224.0 200.0 221.0 206.0 218.0C212.0 215.0 216.0 211.4 222.0 209.0C228.0 206.6 235.3 205.1 242.0 203.5C248.7 201.9 254.3 200.7 262.0 199.5C269.7 198.3 280.2 197.4 288.0 196.5C295.8 195.6 302.0 195.7 309.0 194.0C316.0 192.3 323.3 188.1 330.0 186.5C336.7 184.9 342.3 184.2 349.0 184.5C355.7 184.8 363.2 186.1 370.0 188.0C376.8 189.9 383.3 192.7 390.0 196.0C396.7 199.3 403.3 203.8 410.0 208.0C416.7 212.2 423.3 216.8 430.0 221.0C436.7 225.2 444.0 229.0 450.0 233.0C456.0 237.0 461.3 240.8 466.0 245.0C470.7 249.2 474.3 253.2 478.0 258.0C481.7 262.8 485.2 268.0 488.0 274.0C490.8 280.0 493.3 287.0 495.0 294.0C496.7 301.0 497.3 308.3 498.0 316.0C498.7 323.7 498.8 332.3 499.0 340.0C499.2 347.7 499.3 354.5 499.0 362.0C498.7 369.5 498.0 377.0 497.0 385.0C496.0 393.0 494.5 402.2 493.0 410.0C491.5 417.8 490.2 425.0 488.0 432.0C485.8 439.0 482.7 446.3 480.0 452.0C477.3 457.7 474.2 460.3 472.0 466.0C469.8 471.7 468.2 479.7 467.0 486.0C465.8 492.3 466.2 499.3 465.0 504.0C463.8 508.7 461.7 509.7 460.0 514.0C458.3 518.3 456.8 524.2 455.0 530.0C453.2 535.8 451.3 543.5 449.0 549.0C446.7 554.5 444.5 559.5 441.0 563.0C437.5 566.5 433.2 567.3 428.0 570.0C422.8 572.7 416.2 575.3 410.0 579.0C403.8 582.7 397.3 587.5 391.0 592.0C384.7 596.5 378.2 602.7 372.0 606.0C365.8 609.3 359.7 610.3 354.0 612.0C348.3 613.7 344.3 615.1 338.0 616.0C331.7 616.9 324.0 617.1 316.0 617.5C308.0 617.9 299.0 617.2 290.0 618.5C281.0 619.8 270.0 623.4 262.0 625.0C254.0 626.6 248.0 627.0 242.0 628.0C236.0 629.0 231.5 630.1 226.0 631.0C220.5 631.9 214.7 632.3 209.0 633.5C203.3 634.7 197.3 636.8 192.0 638.0C186.7 639.2 180.6 641.2 177.0 641.0C173.4 640.8 171.5 639.2 170.5 637.0C169.5 634.8 171.5 630.8 171.0 628.0C170.5 625.2 169.7 622.4 167.5 620.5C165.3 618.6 161.2 616.7 158.0 616.5C154.8 616.3 151.1 617.8 148.5 619.5C145.9 621.2 143.4 624.5 142.5 627.0C141.6 629.5 143.5 632.3 143.0 634.5C142.5 636.7 141.5 639.8 139.5 640.0C137.5 640.2 134.2 638.2 131.0 636.0C127.8 633.8 123.8 630.2 120.0 627.0C116.2 623.8 111.3 620.7 108.0 617.0C104.7 613.3 102.3 609.3 100.0 605.0C97.7 600.7 96.2 596.0 94.0 591.0C91.8 586.0 89.2 580.7 87.0 575.0C84.8 569.3 82.7 562.7 81.0 557.0C79.3 551.3 78.0 545.8 77.0 541.0C76.0 536.2 75.8 532.5 75.0 528.0C74.2 523.5 73.3 518.2 72.0 514.0C70.7 509.8 69.5 506.8 67.0 503.0C64.5 499.2 59.4 495.5 57.0 491.0C54.6 486.5 53.6 480.8 52.5 476.0C51.4 471.2 50.9 466.0 50.5 462.0C50.1 458.0 50.5 454.7 50.0 452.0C49.5 449.3 47.8 449.3 47.5 446.0C47.2 442.7 48.0 436.3 48.0 432.0C48.0 427.7 47.3 423.8 47.5 420.0C47.7 416.2 49.1 412.0 49.0 409.0C48.9 406.0 47.1 405.2 47.0 402.0C46.9 398.8 47.3 394.3 48.5 390.0C49.7 385.7 52.1 380.7 54.0 376.0C55.9 371.3 58.2 366.3 60.0 362.0C61.8 357.7 63.5 353.2 65.0 350.0C66.5 346.8 67.5 345.8 69.0 343.0C70.5 340.2 72.2 337.2 74.0 333.0C75.8 328.8 77.7 323.5 80.0 318.0C82.3 312.5 85.3 305.2 88.0 300.0C90.7 294.8 92.7 291.2 96.0 287.0Z" fill="#FAD390" stroke="#EE6E55" stroke-width="7.1" stroke-linejoin="round"/>
<path d="M88.9 74.0L89.2 75.4L89.5 76.8L89.8 78.2L90.1 79.6L90.5 81.2L90.9 82.8L91.3 84.6L91.8 86.4L92.4 88.4L93.2 90.5L94.0 92.7L95.0 94.9L96.0 97.2L97.1 99.5L98.1 101.7L99.2 104.0L100.3 106.3L101.3 108.6L102.3 110.8L103.2 113.1L104.2 115.5L105.1 117.9L106.1 120.4L107.0 122.9L107.9 125.4L108.8 127.9L109.6 130.5L110.4 133.0L111.2 135.6L111.9 138.2L112.6 140.7L113.2 143.3L113.7 146.1L114.3 148.9L114.8 151.7L115.3 154.7L115.9 157.7L116.5 160.8L117.1 163.9L117.9 167.0L118.7 170.1L119.5 173.0L120.3 176.0L121.2 179.0L122.1 181.9L123.0 184.9L124.0 188.0L124.9 191.1L126.0 194.3L127.1 197.6L128.2 201.2L129.5 204.9L130.8 208.8L132.2 212.7L133.6 216.7L135.0 220.6L136.4 224.5L137.7 228.2L138.9 231.6L140.0 234.8L140.9 237.7L141.8 240.4L142.7 242.9L143.4 245.2L144.2 247.5L144.9 249.7L145.6 251.9L146.3 254.1L147.1 256.4L147.8 258.7L149.5 261.6L152.1 263.7L155.4 264.6L158.7 264.2L161.6 262.5L163.7 259.9L164.6 256.6L164.2 253.3L163.4 251.0L162.6 248.7L161.9 246.5L161.2 244.4L160.4 242.1L159.7 239.8L158.9 237.4L158.0 234.9L157.1 232.2L156.0 229.2L154.9 226.0L153.6 222.5L152.3 218.8L150.9 215.0L149.5 211.0L148.1 207.1L146.7 203.2L145.3 199.4L144.1 195.8L142.9 192.4L141.9 189.1L140.8 186.0L139.9 182.9L138.9 180.0L138.1 177.1L137.2 174.2L136.4 171.4L135.6 168.6L134.8 165.8L134.1 163.0L133.4 160.2L132.8 157.4L132.3 154.6L131.7 151.7L131.2 148.8L130.7 145.8L130.1 142.8L129.5 139.8L128.8 136.8L128.1 133.8L127.2 130.9L126.4 128.1L125.5 125.3L124.6 122.5L123.6 119.8L122.7 117.1L121.7 114.5L120.7 111.9L119.7 109.4L118.8 106.9L117.7 104.3L116.6 101.8L115.5 99.3L114.3 96.9L113.2 94.6L112.2 92.3L111.2 90.2L110.3 88.2L109.5 86.4L108.8 84.7L108.3 83.1L107.8 81.7L107.4 80.3L107.1 78.9L106.8 77.6L106.5 76.2L106.2 74.8L105.9 73.2L105.5 71.6L105.1 70.0Z" fill="#FAD390" stroke="#EE6E55" stroke-width="3.3" stroke-linejoin="round"/>
<path d="M56.3 81.7L58.2 83.0L60.1 84.2L61.9 85.4L63.7 86.6L65.5 87.7L67.4 88.9L69.4 90.2L71.5 91.6L73.7 93.1L76.2 94.7L78.9 96.5L81.8 98.5L85.0 100.7L88.2 102.9L91.6 105.3L95.1 107.6L98.5 110.0L101.9 112.2L105.2 114.4L108.4 116.4L111.5 118.2L114.5 119.8L117.3 121.4L120.1 122.9L122.9 124.3L125.6 125.7L128.3 127.0L131.0 128.5L133.8 129.9L136.7 131.5L139.8 133.2L143.2 135.0L146.6 136.8L150.0 138.6L153.3 140.4L156.6 142.2L159.8 144.0L162.7 145.9L165.4 147.6L167.8 149.4L169.9 151.2L171.8 152.9L173.6 154.8L175.3 156.6L176.9 158.5L178.4 160.5L179.9 162.5L181.4 164.6L182.8 166.7L184.3 168.8L185.6 170.9L186.8 172.9L188.0 175.0L189.1 177.1L190.2 179.2L191.2 181.5L192.3 183.8L193.4 186.1L194.6 188.6L195.7 191.0L196.9 193.5L198.2 196.1L199.4 198.8L200.6 201.6L201.9 204.3L203.1 207.1L204.3 209.7L205.5 212.3L206.6 214.8L207.6 217.0L208.6 219.1L209.5 220.9L210.4 222.7L211.2 224.3L211.9 225.8L212.7 227.3L213.4 228.7L214.1 230.2L214.9 231.6L215.7 233.2L217.4 235.4L219.8 236.7L222.5 237.1L225.2 236.3L227.4 234.6L228.7 232.2L229.1 229.5L228.3 226.8L227.6 225.2L226.8 223.7L226.0 222.3L225.3 220.9L224.6 219.4L223.8 217.9L223.0 216.4L222.2 214.7L221.3 212.9L220.4 211.0L219.3 208.8L218.2 206.5L217.1 203.9L215.9 201.3L214.6 198.6L213.4 195.8L212.1 193.0L210.8 190.2L209.5 187.5L208.3 185.0L207.1 182.6L206.0 180.2L204.9 177.9L203.7 175.5L202.6 173.1L201.4 170.8L200.1 168.4L198.7 166.0L197.3 163.5L195.7 161.2L194.2 158.9L192.6 156.7L191.0 154.5L189.4 152.2L187.6 149.9L185.7 147.6L183.6 145.3L181.3 143.1L178.9 140.8L176.2 138.6L173.3 136.4L170.1 134.3L166.8 132.3L163.4 130.3L159.9 128.4L156.4 126.5L152.9 124.7L149.6 122.9L146.4 121.2L143.3 119.5L140.3 117.9L137.4 116.3L134.6 114.9L131.8 113.5L129.1 112.1L126.5 110.7L123.8 109.3L121.1 107.9L118.4 106.3L115.6 104.6L112.6 102.8L109.4 100.7L106.1 98.6L102.8 96.3L99.4 94.0L96.0 91.7L92.7 89.4L89.6 87.2L86.6 85.2L83.8 83.3L81.3 81.6L79.0 80.1L76.9 78.7L74.9 77.4L73.0 76.2L71.1 75.0L69.3 73.9L67.5 72.7L65.7 71.5L63.7 70.3Z" fill="#FAD390" stroke="#EE6E55" stroke-width="3.3" stroke-linejoin="round"/>
<path d="M249.7 70.2L249.7 71.9L249.7 73.6L249.7 75.4L249.8 77.2L249.8 78.9L249.8 80.7L249.8 82.5L249.9 84.4L250.0 86.2L250.1 87.9L250.1 89.4L250.1 90.8L250.0 92.3L250.0 94.0L249.9 96.0L250.0 98.1L250.2 100.4L250.6 102.9L251.3 105.4L252.3 108.1L253.5 110.8L254.8 113.4L256.4 116.0L258.0 118.6L259.7 121.1L261.4 123.6L263.1 126.2L264.8 128.6L266.4 131.0L268.0 133.5L269.6 136.0L271.3 138.7L273.0 141.3L274.7 143.9L276.4 146.5L278.1 149.0L279.6 151.5L281.0 154.0L282.3 156.3L283.5 158.6L284.5 160.9L285.4 163.2L286.4 165.7L287.2 168.1L288.0 170.5L288.8 172.9L289.4 175.3L290.0 177.6L290.6 179.7L291.0 181.7L291.4 183.4L291.6 184.8L291.8 186.2L291.9 187.5L291.9 188.8L292.0 190.2L292.0 191.5L292.0 193.0L292.0 194.6L292.0 196.2L292.1 197.7L292.1 199.0L292.1 200.4L292.1 201.7L292.1 203.1L292.1 204.4L292.1 205.8L292.1 207.2L292.1 208.6L292.2 210.0L292.7 213.0L294.4 215.5L297.0 217.2L300.0 217.8L303.0 217.3L305.5 215.6L307.2 213.0L307.8 210.0L307.9 208.7L307.9 207.3L307.9 206.0L308.0 204.6L308.0 203.2L308.0 201.8L308.0 200.3L308.0 198.8L308.0 197.3L308.0 195.8L308.0 194.5L308.0 193.1L308.0 191.7L308.1 190.2L308.1 188.5L308.0 186.8L307.9 184.8L307.7 182.8L307.4 180.6L307.0 178.3L306.5 176.0L305.9 173.6L305.3 171.1L304.6 168.5L303.9 165.7L303.0 162.9L302.1 160.1L301.0 157.2L299.8 154.3L298.5 151.4L297.1 148.6L295.6 145.7L293.9 142.9L292.2 140.1L290.4 137.4L288.7 134.7L286.9 132.1L285.2 129.5L283.6 127.0L282.0 124.5L280.4 121.9L278.6 119.3L276.9 116.7L275.2 114.2L273.5 111.8L272.0 109.5L270.6 107.3L269.4 105.3L268.5 103.5L267.7 101.9L267.3 100.5L267.0 99.3L266.8 98.2L266.7 97.1L266.6 95.8L266.7 94.5L266.7 92.9L266.8 91.2L266.8 89.2L266.7 87.3L266.7 85.5L266.6 83.8L266.5 82.1L266.5 80.4L266.5 78.7L266.5 76.9L266.4 75.2L266.4 73.4L266.4 71.6L266.3 69.8Z" fill="#FAD390" stroke="#EE6E55" stroke-width="3.3" stroke-linejoin="round"/>
<path d="M-1.0 501.0L0.4 500.3L1.7 499.5L3.0 498.8L4.3 498.0L5.6 497.3L6.9 496.5L8.3 495.7L9.8 494.9L11.3 494.0L13.0 493.0L14.8 492.0L16.8 490.9L18.9 489.7L21.0 488.5L23.2 487.2L25.4 486.0L27.6 484.7L29.8 483.4L31.9 482.2L34.0 481.0L36.0 479.9L38.0 478.8L39.9 477.7L41.9 476.6L43.8 475.5L45.7 474.4L47.6 473.3L49.5 472.3L51.4 471.2L53.4 470.1L55.4 469.0L57.4 467.9L59.4 466.8L61.4 465.7L63.5 464.6L65.6 463.5L67.6 462.4L69.7 461.3L71.8 460.2L73.8 459.1L76.3 457.1L77.8 454.3L78.1 451.2L77.1 448.2L75.1 445.7L72.3 444.2L69.2 443.9L66.2 444.9L64.1 446.0L62.1 447.1L60.0 448.2L57.9 449.3L55.9 450.4L53.8 451.5L51.7 452.6L49.7 453.7L47.6 454.8L45.6 455.9L43.6 457.0L41.6 458.1L39.7 459.2L37.7 460.3L35.8 461.4L33.9 462.5L31.9 463.6L30.0 464.7L28.0 465.8L26.0 467.0L23.9 468.1L21.8 469.4L19.6 470.6L17.4 471.9L15.1 473.2L12.9 474.4L10.8 475.6L8.8 476.8L6.8 477.9L5.0 479.0L3.3 479.9L1.7 480.8L0.3 481.7L-1.1 482.5L-2.5 483.2L-3.8 484.0L-5.0 484.7L-6.3 485.4L-7.7 486.2L-9.0 487.0Z" fill="#FAD390" stroke="#EE6E55" stroke-width="3.3" stroke-linejoin="round"/>
<path d="M230.7 614.1L230.5 615.7L230.3 617.2L230.1 618.6L229.9 620.1L229.7 621.6L229.5 623.2L229.3 625.0L229.1 626.9L228.9 629.0L228.7 631.5L228.5 634.3L228.5 637.4L228.5 640.5L228.5 643.7L228.5 647.0L228.4 650.2L228.2 653.4L227.9 656.5L227.5 659.4L226.8 662.1L225.9 664.8L224.8 667.6L223.5 670.4L222.0 673.4L220.4 676.4L218.7 679.4L216.9 682.6L215.1 685.8L213.3 689.1L211.6 692.4L210.0 695.6L208.3 698.8L206.5 702.0L204.7 705.3L202.9 708.6L201.0 711.9L199.3 715.3L197.5 718.7L195.9 722.1L194.3 725.5L192.9 728.8L191.5 732.0L190.3 735.3L189.1 738.5L188.0 741.7L187.0 744.9L186.1 748.1L185.2 751.2L184.3 754.4L183.5 757.6L182.7 760.8L181.9 764.1L181.3 767.3L180.7 770.5L180.1 773.7L179.6 776.7L179.1 779.6L178.5 782.5L178.0 785.2L177.5 787.8L176.9 790.5L176.4 793.0L175.9 795.4L175.4 797.7L174.8 800.0L174.3 802.2L173.7 804.5L173.0 806.8L172.3 809.2L171.4 811.8L170.4 814.6L169.4 817.4L168.3 820.3L167.1 823.3L165.9 826.3L164.6 829.4L163.2 832.5L161.8 835.6L160.2 838.7L158.6 841.9L156.9 845.2L155.0 848.6L153.0 852.0L151.0 855.5L148.8 859.1L146.6 862.6L144.4 866.0L142.1 869.4L139.8 872.7L137.5 875.8L135.2 878.8L132.8 881.8L130.3 884.7L127.8 887.5L125.3 890.3L122.7 893.1L120.1 895.9L117.4 898.6L114.8 901.3L112.1 904.1L109.6 906.7L106.9 909.3L104.3 911.8L101.7 914.4L99.0 916.9L96.3 919.4L93.6 921.9L90.9 924.4L88.1 926.9L85.4 929.5L84.0 931.4L83.4 933.7L83.8 936.0L85.0 938.1L86.9 939.5L89.2 940.1L91.5 939.7L93.6 938.5L96.4 936.1L99.2 933.7L102.0 931.4L104.8 929.0L107.6 926.6L110.5 924.1L113.3 921.7L116.2 919.2L119.0 916.6L121.9 913.9L124.6 911.3L127.4 908.6L130.2 905.9L133.0 903.2L135.8 900.4L138.6 897.5L141.4 894.5L144.1 891.5L146.9 888.4L149.5 885.2L152.1 881.9L154.7 878.4L157.2 874.9L159.8 871.3L162.2 867.7L164.7 864.1L167.0 860.5L169.2 857.0L171.4 853.5L173.4 850.1L175.3 846.7L177.1 843.4L178.9 840.0L180.5 836.7L182.1 833.5L183.5 830.3L184.9 827.2L186.2 824.1L187.4 821.1L188.6 818.2L189.7 815.3L190.7 812.6L191.6 809.9L192.4 807.4L193.2 804.9L193.9 802.4L194.5 799.9L195.2 797.4L195.8 794.9L196.5 792.2L197.2 789.2L197.9 786.2L198.4 783.2L199.0 780.1L199.5 777.1L200.0 774.1L200.6 771.1L201.2 768.2L201.8 765.3L202.5 762.4L203.3 759.5L204.1 756.5L205.0 753.6L205.9 750.6L206.8 747.7L207.7 744.7L208.6 741.7L209.6 738.6L210.6 735.6L211.7 732.5L212.8 729.5L214.1 726.3L215.5 723.1L217.0 719.8L218.5 716.5L220.1 713.1L221.7 709.8L223.3 706.3L224.9 702.9L226.4 699.6L227.9 696.4L229.4 693.3L231.0 690.1L232.7 686.8L234.3 683.5L235.9 680.2L237.5 676.7L238.9 673.2L240.2 669.6L241.2 665.9L242.0 662.1L242.5 658.2L242.9 654.5L243.1 650.8L243.2 647.2L243.2 643.7L243.2 640.5L243.2 637.5L243.2 634.9L243.3 632.5L243.5 630.4L243.7 628.4L243.9 626.6L244.1 625.0L244.3 623.5L244.5 622.1L244.7 620.6L244.9 619.1L245.1 617.6L245.3 615.9Z" fill="#FAD390" stroke="#EE6E55" stroke-width="3.3" stroke-linejoin="round"/>
<path d="M209.2 614.6L209.1 616.5L209.0 618.3L208.9 620.1L208.8 621.8L208.7 623.6L208.6 625.5L208.5 627.6L208.4 630.0L208.3 632.7L208.2 635.7L208.0 639.2L207.9 643.0L207.7 647.3L207.5 651.8L207.3 656.5L207.2 661.3L207.1 666.2L207.0 671.1L207.0 675.8L207.2 680.3L207.3 684.6L207.5 688.7L207.8 692.9L208.1 697.0L208.4 701.1L208.9 705.2L209.4 709.3L209.9 713.4L210.6 717.5L211.3 721.7L212.2 726.0L213.3 730.4L214.5 734.7L215.8 739.0L217.2 743.2L218.5 747.2L219.7 751.2L220.9 755.0L221.9 758.5L222.8 761.9L223.6 765.1L224.2 768.2L224.7 771.1L225.2 774.0L225.6 776.8L226.0 779.6L226.5 782.5L226.9 785.4L227.4 788.4L228.0 791.5L228.6 794.6L229.2 797.5L229.9 800.4L230.5 803.3L231.2 806.1L231.8 809.0L232.4 811.8L233.0 814.8L233.6 817.9L234.1 821.2L234.7 824.7L235.2 828.5L235.8 832.3L236.3 836.3L236.9 840.3L237.4 844.3L237.8 848.3L238.2 852.3L238.5 856.2L238.6 860.0L238.6 863.9L238.6 867.8L238.4 871.8L238.2 875.8L238.0 879.8L237.6 883.8L237.2 887.7L236.8 891.5L236.3 895.2L235.7 898.7L235.1 902.2L234.3 905.6L233.5 909.1L232.6 912.4L231.6 915.8L230.6 919.0L229.6 922.0L228.6 924.9L227.7 927.6L226.9 930.0L226.1 932.0L225.4 933.7L224.8 935.1L224.2 936.3L223.6 937.4L222.9 938.5L222.3 939.6L221.6 940.8L220.8 942.1L220.1 943.5L219.4 945.4L219.6 947.4L220.5 949.2L222.0 950.4L223.9 951.1L225.9 950.9L227.7 950.0L228.9 948.5L229.7 947.3L230.4 946.2L231.1 945.2L231.8 944.1L232.6 942.9L233.5 941.5L234.3 940.0L235.2 938.2L236.2 936.2L237.1 934.0L238.2 931.5L239.3 928.9L240.4 925.9L241.6 922.8L242.8 919.5L244.1 916.0L245.2 912.5L246.4 908.8L247.4 905.0L248.3 901.3L249.1 897.4L249.9 893.5L250.6 889.5L251.2 885.4L251.8 881.2L252.3 877.0L252.7 872.7L253.0 868.5L253.3 864.2L253.4 860.0L253.4 855.7L253.3 851.4L253.1 847.1L252.8 842.8L252.4 838.5L251.9 834.3L251.4 830.2L250.9 826.3L250.4 822.5L249.9 818.8L249.4 815.3L248.8 811.9L248.2 808.7L247.6 805.6L246.9 802.6L246.3 799.8L245.7 796.9L245.1 794.1L244.6 791.4L244.0 788.5L243.6 785.7L243.1 782.9L242.8 780.1L242.4 777.3L242.0 774.4L241.6 771.5L241.1 768.4L240.6 765.1L239.9 761.7L239.2 758.1L238.3 754.3L237.2 750.3L236.1 746.3L234.9 742.2L233.7 738.1L232.5 734.0L231.4 729.9L230.4 726.0L229.5 722.1L228.7 718.3L228.0 714.6L227.4 710.8L226.9 707.0L226.5 703.2L226.1 699.4L225.7 695.6L225.4 691.7L225.2 687.8L225.0 683.8L224.8 679.7L224.7 675.5L224.7 671.1L224.8 666.5L224.9 661.8L225.0 657.1L225.2 652.5L225.4 648.0L225.6 643.8L225.7 639.8L225.8 636.3L225.9 633.3L226.0 630.7L226.1 628.4L226.2 626.4L226.3 624.5L226.4 622.8L226.5 621.1L226.6 619.3L226.7 617.5L226.8 615.4Z" fill="#FAD390" stroke="#EE6E55" stroke-width="3.3" stroke-linejoin="round"/>
<path d="M241.7 606.0L241.6 607.9L241.6 609.7L241.6 611.5L241.6 613.3L241.6 615.1L241.6 617.0L241.6 619.0L241.6 621.2L241.6 623.5L241.7 626.1L241.7 629.0L241.8 632.0L241.8 635.2L241.9 638.5L242.0 642.0L242.1 645.6L242.2 649.2L242.4 652.9L242.5 656.6L242.7 660.3L242.8 664.1L242.9 668.0L243.1 672.1L243.2 676.3L243.3 680.6L243.4 684.8L243.5 689.0L243.8 693.2L244.0 697.2L244.3 701.0L244.7 704.6L245.2 708.0L245.7 711.2L246.3 714.3L246.9 717.4L247.6 720.3L248.2 723.2L248.9 726.1L249.7 729.1L250.4 732.1L251.1 735.2L251.9 738.3L252.7 741.4L253.5 744.6L254.4 747.8L255.3 751.1L256.3 754.4L257.4 757.8L258.6 761.3L259.9 764.9L261.3 768.5L262.7 772.3L264.2 776.1L265.8 780.1L267.5 784.1L269.3 788.2L271.1 792.2L273.0 796.2L275.0 800.0L277.0 803.8L279.1 807.4L281.2 811.0L283.5 814.6L285.8 818.2L288.1 821.6L290.6 825.0L293.0 828.3L295.5 831.4L298.0 834.3L300.6 837.1L303.2 839.7L305.9 842.0L308.5 844.2L311.2 846.2L313.8 848.0L316.5 849.7L319.1 851.2L321.6 852.6L324.1 854.0L326.7 855.4L329.4 856.7L332.3 857.9L335.0 858.9L337.7 859.7L340.2 860.4L342.6 861.1L344.9 861.8L347.0 862.5L349.0 863.3L350.9 864.1L352.9 865.2L354.9 866.2L356.8 867.3L358.7 868.5L360.5 869.7L362.4 870.9L364.1 872.2L365.9 873.6L367.7 875.1L369.5 876.7L371.2 878.4L373.0 880.2L374.8 882.2L376.5 884.4L378.4 886.6L380.2 888.9L382.1 891.3L383.9 893.6L385.8 896.0L387.7 898.3L389.6 899.9L391.8 900.6L394.2 900.4L396.3 899.3L397.9 897.4L398.6 895.2L398.4 892.8L397.3 890.7L395.5 888.4L393.7 886.1L391.9 883.7L390.1 881.3L388.3 878.8L386.5 876.4L384.6 874.0L382.6 871.7L380.6 869.4L378.5 867.3L376.4 865.3L374.4 863.5L372.3 861.8L370.2 860.2L368.1 858.6L366.0 857.2L363.9 855.8L361.7 854.5L359.5 853.2L357.1 851.9L354.5 850.6L351.9 849.5L349.3 848.6L346.8 847.7L344.3 846.9L341.9 846.2L339.7 845.4L337.5 844.6L335.4 843.7L333.3 842.6L331.0 841.4L328.7 840.1L326.4 838.7L324.1 837.3L321.9 835.9L319.7 834.4L317.6 832.7L315.5 830.9L313.4 829.0L311.4 826.9L309.3 824.5L307.2 821.9L305.1 819.1L303.0 816.1L300.9 813.0L298.8 809.7L296.7 806.4L294.7 803.0L292.8 799.6L291.0 796.2L289.3 792.8L287.6 789.2L286.0 785.5L284.4 781.7L282.9 777.9L281.4 774.0L279.9 770.2L278.6 766.4L277.3 762.7L276.1 759.1L275.0 755.8L274.0 752.6L273.1 749.4L272.2 746.3L271.4 743.2L270.6 740.1L269.8 737.1L269.1 734.1L268.3 731.0L267.6 727.9L266.9 724.9L266.1 721.9L265.5 719.1L264.8 716.4L264.2 713.6L263.7 710.9L263.1 708.1L262.6 705.2L262.1 702.2L261.7 699.0L261.3 695.6L260.9 691.9L260.6 688.1L260.3 684.0L260.1 679.9L259.9 675.8L259.7 671.6L259.6 667.5L259.5 663.5L259.3 659.7L259.2 656.0L259.1 652.3L258.9 648.6L258.8 645.0L258.7 641.5L258.6 638.1L258.5 634.8L258.5 631.6L258.4 628.6L258.3 625.9L258.3 623.3L258.3 621.0L258.3 619.0L258.3 617.0L258.3 615.2L258.3 613.4L258.3 611.6L258.3 609.8L258.3 608.0L258.3 606.0Z" fill="#FAD390" stroke="#EE6E55" stroke-width="3.3" stroke-linejoin="round"/>
<path d="M287.0 611.4L288.3 613.1L289.5 614.9L290.8 616.6L292.1 618.5L293.5 620.3L294.8 622.1L296.1 623.8L297.4 625.6L298.7 627.2L300.1 628.8L301.3 630.2L302.6 631.5L303.8 632.7L305.0 633.8L306.0 634.8L307.1 635.7L308.0 636.5L308.9 637.3L309.8 638.0L310.7 638.8L311.6 639.7L312.6 640.6L313.6 641.5L314.6 642.3L315.5 643.2L316.5 644.0L317.4 644.8L318.4 645.7L319.4 646.5L320.4 647.4L321.6 648.4L322.7 649.4L323.8 650.3L324.9 651.1L325.9 652.0L326.9 652.8L327.8 653.7L328.7 654.6L329.7 655.5L330.7 656.6L331.8 657.8L333.0 659.3L334.2 660.8L335.5 662.4L336.8 664.1L338.1 665.8L339.4 667.5L340.6 669.2L341.7 670.9L342.8 672.4L343.7 673.9L344.6 675.3L345.4 676.7L346.2 678.2L347.0 679.7L347.8 681.2L348.6 682.8L349.4 684.4L350.3 686.2L351.3 687.9L352.2 689.7L353.1 691.5L354.1 693.4L355.0 695.3L356.0 697.3L357.1 699.3L358.1 701.3L359.2 703.3L360.3 705.3L361.4 707.3L362.6 709.3L363.7 711.1L364.9 713.0L366.0 714.8L367.2 716.7L368.4 718.4L369.6 720.2L370.7 721.9L371.9 723.6L373.1 725.3L374.2 726.9L375.4 728.5L376.5 730.0L377.7 731.6L378.8 733.1L380.0 734.7L381.3 736.2L382.5 737.7L383.8 739.3L385.2 740.8L386.4 742.2L387.7 743.7L389.1 745.2L390.5 746.8L392.0 748.4L393.6 750.0L395.2 751.6L397.0 753.2L398.9 754.8L400.9 756.3L403.0 757.7L405.1 759.0L407.2 760.3L409.4 761.5L411.6 762.7L413.9 763.8L416.3 764.8L418.6 765.9L421.1 766.8L423.5 767.8L426.0 768.6L428.4 769.4L430.8 770.1L433.1 770.8L435.5 771.4L438.1 772.0L440.7 772.6L443.6 773.3L446.7 774.0L450.2 774.8L454.3 775.7L459.0 776.8L464.0 777.8L469.3 778.9L474.6 780.1L480.0 781.2L485.1 782.4L489.9 783.5L494.2 784.4L497.9 785.4L501.0 786.2L503.7 787.1L506.1 787.9L508.1 788.7L509.9 789.6L511.6 790.4L513.2 791.3L514.8 792.2L516.5 793.2L518.2 794.3L519.9 795.4L521.4 796.5L522.9 797.6L524.4 798.8L525.8 800.0L527.1 801.2L528.4 802.5L529.7 803.7L530.9 805.0L532.0 806.2L532.9 807.3L533.8 808.4L534.6 809.6L535.3 810.8L536.1 812.1L536.8 813.3L537.4 814.6L538.1 816.0L538.8 817.3L539.4 818.6L540.0 819.8L540.5 820.8L541.0 821.9L541.4 823.0L541.8 824.1L542.2 825.2L542.6 826.4L543.1 827.6L543.5 828.8L544.0 830.0L545.2 832.0L547.0 833.3L549.2 833.8L551.5 833.5L553.5 832.3L554.8 830.5L555.3 828.3L555.0 826.0L554.6 824.8L554.2 823.7L553.9 822.6L553.5 821.4L553.1 820.2L552.7 818.9L552.3 817.6L551.8 816.2L551.2 814.8L550.6 813.4L550.0 812.0L549.4 810.7L548.7 809.2L548.0 807.7L547.3 806.1L546.4 804.5L545.5 802.9L544.4 801.2L543.3 799.5L542.0 797.8L540.8 796.3L539.4 794.7L538.0 793.2L536.5 791.6L535.0 790.0L533.3 788.5L531.6 787.0L529.7 785.5L527.8 784.0L525.8 782.7L523.9 781.5L522.1 780.3L520.3 779.2L518.3 778.0L516.2 776.9L513.9 775.8L511.4 774.7L508.6 773.6L505.6 772.4L502.1 771.2L498.1 770.0L493.5 768.8L488.5 767.5L483.2 766.4L477.8 765.2L472.4 764.1L467.1 763.0L462.2 761.9L457.7 760.9L453.8 760.0L450.3 759.2L447.1 758.4L444.3 757.7L441.7 757.0L439.4 756.4L437.3 755.8L435.2 755.2L433.3 754.6L431.3 753.8L429.3 753.0L427.2 752.1L425.1 751.2L423.1 750.2L421.2 749.2L419.3 748.2L417.5 747.1L415.8 746.0L414.1 744.9L412.5 743.8L411.1 742.7L409.7 741.6L408.5 740.5L407.2 739.2L406.0 738.0L404.9 736.6L403.7 735.2L402.5 733.8L401.3 732.3L400.1 730.8L398.8 729.2L397.7 727.8L396.6 726.4L395.6 725.0L394.6 723.6L393.6 722.2L392.6 720.8L391.6 719.3L390.6 717.8L389.6 716.3L388.5 714.7L387.5 713.1L386.4 711.5L385.3 709.8L384.3 708.2L383.2 706.5L382.2 704.8L381.1 703.0L380.1 701.3L379.1 699.6L378.2 697.9L377.2 696.1L376.3 694.3L375.4 692.5L374.5 690.6L373.5 688.6L372.6 686.7L371.6 684.7L370.7 682.7L369.7 680.7L368.7 678.9L367.8 677.1L367.0 675.5L366.1 673.8L365.3 672.2L364.4 670.5L363.5 668.8L362.5 667.0L361.5 665.3L360.4 663.4L359.2 661.6L358.0 659.7L356.7 657.8L355.3 655.9L353.9 654.0L352.5 652.1L351.0 650.2L349.6 648.4L348.1 646.7L346.7 645.0L345.3 643.4L343.9 641.9L342.5 640.5L341.2 639.2L339.9 638.0L338.6 637.0L337.4 636.0L336.3 635.1L335.3 634.2L334.3 633.4L333.4 632.6L332.3 631.7L331.3 630.7L330.2 629.9L329.2 629.0L328.2 628.2L327.2 627.4L326.3 626.6L325.3 625.8L324.4 625.0L323.3 624.2L322.2 623.3L321.2 622.4L320.2 621.7L319.2 620.9L318.3 620.2L317.5 619.5L316.6 618.8L315.8 618.1L314.9 617.2L313.9 616.2L312.9 615.1L311.8 613.8L310.5 612.4L309.2 610.8L307.9 609.2L306.5 607.5L305.2 605.7L303.8 604.0L302.4 602.2L301.0 600.6Z" fill="#FAD390" stroke="#EE6E55" stroke-width="3.3" stroke-linejoin="round"/>
<path d="M335.8 609.0L337.2 610.4L338.6 611.8L339.9 613.2L341.3 614.6L342.7 616.0L344.1 617.5L345.6 619.0L347.1 620.6L348.8 622.2L350.5 623.9L352.2 625.6L354.1 627.5L356.1 629.5L358.2 631.6L360.4 633.8L362.7 636.0L365.0 638.2L367.4 640.3L369.9 642.4L372.4 644.4L375.0 646.1L377.5 647.7L380.0 649.1L382.3 650.3L384.6 651.4L386.7 652.4L388.7 653.3L390.6 654.2L392.3 655.0L394.0 655.9L395.9 656.9L397.8 657.9L399.7 658.9L401.6 660.0L403.5 661.0L405.4 662.1L407.4 663.1L409.3 664.2L411.3 665.3L413.2 666.3L415.1 667.3L417.0 668.4L418.9 669.4L420.8 670.5L422.8 671.6L424.8 672.7L426.9 673.7L429.0 674.8L431.1 675.8L433.2 676.9L435.3 677.8L437.4 678.7L439.4 679.6L441.5 680.5L443.5 681.3L445.5 682.1L447.5 682.9L449.5 683.7L451.5 684.4L453.5 685.1L455.6 685.9L457.8 686.6L459.9 687.3L462.0 687.9L464.0 688.5L465.9 689.1L467.8 689.7L469.5 690.3L471.2 690.8L472.7 691.3L474.2 691.9L475.6 692.4L477.0 692.9L478.3 693.4L479.7 693.9L481.0 694.5L482.4 695.0L483.8 695.6L485.4 696.2L487.0 696.9L488.8 697.6L490.6 698.3L492.4 699.0L494.2 699.5L496.0 700.1L497.8 700.7L499.6 701.2L501.3 701.8L502.9 702.4L504.5 703.0L506.1 703.7L507.8 704.4L509.5 705.1L511.3 705.9L513.0 706.7L514.7 707.5L516.4 708.3L518.1 709.1L519.7 709.9L521.2 710.7L522.7 711.5L524.0 712.2L525.2 712.8L526.3 713.5L527.4 714.2L528.4 715.0L529.5 715.9L530.8 716.8L532.1 717.9L533.7 719.2L535.3 720.6L537.2 722.2L539.2 724.0L541.3 725.9L543.5 727.9L545.7 729.9L547.8 731.9L550.0 733.9L552.0 735.7L553.9 737.5L555.7 739.0L557.3 740.5L559.0 742.0L560.5 743.4L562.1 744.8L563.6 746.1L565.0 747.4L566.5 748.7L567.9 749.9L569.3 751.1L570.5 752.2L571.6 753.3L572.7 754.4L573.9 755.6L575.1 756.8L576.5 758.1L578.1 759.5L579.8 760.8L581.7 762.2L583.8 763.5L586.0 764.7L588.3 765.9L590.7 767.1L593.3 768.4L595.9 769.6L598.7 770.7L601.4 771.8L604.3 772.8L607.1 773.7L610.0 774.5L612.9 775.1L615.9 775.7L618.8 776.1L621.8 776.4L624.7 776.6L627.6 776.8L630.4 776.9L633.0 776.9L635.5 776.9L637.8 776.8L640.1 776.8L642.3 776.6L644.4 776.4L646.3 776.2L648.1 775.9L649.8 775.5L651.4 775.1L652.9 774.8L654.3 774.4L655.7 774.1L657.1 773.8L658.5 773.5L659.8 773.2L661.0 772.9L662.2 772.6L663.4 772.3L664.5 771.9L665.5 771.6L666.6 771.3L667.8 771.0L669.5 770.4L670.8 769.2L671.5 767.5L671.5 765.7L670.9 764.0L669.7 762.7L668.0 762.0L666.2 762.0L665.0 762.1L663.8 762.2L662.7 762.3L661.5 762.4L660.4 762.5L659.3 762.6L658.1 762.7L656.9 762.8L655.7 762.8L654.3 762.9L652.8 762.9L651.2 763.0L649.7 763.1L648.2 763.2L646.6 763.3L645.1 763.3L643.5 763.4L641.8 763.4L640.1 763.3L638.2 763.2L636.0 763.0L633.7 762.7L631.2 762.5L628.7 762.2L626.2 761.9L623.6 761.5L621.0 761.1L618.6 760.7L616.2 760.1L614.0 759.5L611.8 758.8L609.5 758.0L607.2 757.1L604.8 756.1L602.5 755.0L600.2 753.9L598.0 752.8L595.9 751.7L593.9 750.6L592.2 749.5L590.8 748.6L589.7 747.8L588.6 746.9L587.7 746.0L586.7 745.1L585.7 744.1L584.7 742.9L583.5 741.6L582.1 740.3L580.7 738.9L579.3 737.5L577.9 736.2L576.6 734.9L575.2 733.6L573.8 732.2L572.4 730.8L570.9 729.3L569.4 727.8L567.8 726.2L566.1 724.5L564.4 722.8L562.5 720.9L560.5 718.9L558.4 716.7L556.3 714.6L554.2 712.5L552.1 710.4L550.1 708.4L548.1 706.5L546.3 704.8L544.7 703.3L543.3 702.0L541.9 700.8L540.6 699.7L539.3 698.6L538.0 697.6L536.7 696.6L535.5 695.5L534.2 694.5L532.8 693.3L531.3 692.1L529.7 690.8L528.1 689.6L526.4 688.3L524.6 687.0L522.9 685.8L521.1 684.5L519.2 683.3L517.4 682.1L515.5 681.0L513.5 679.9L511.5 678.8L509.6 677.8L507.6 676.8L505.7 675.9L503.9 675.0L502.1 674.1L500.3 673.4L498.6 672.8L497.0 672.1L495.4 671.5L493.9 670.9L492.4 670.3L491.0 669.7L489.5 669.1L488.0 668.5L486.4 667.9L484.8 667.3L483.1 666.7L481.3 666.1L479.3 665.5L477.3 664.9L475.3 664.3L473.3 663.7L471.3 663.2L469.4 662.6L467.5 662.1L465.6 661.6L463.8 661.0L462.1 660.5L460.3 659.8L458.4 659.2L456.6 658.5L454.7 657.9L452.9 657.2L451.1 656.5L449.3 655.8L447.5 655.1L445.8 654.3L444.0 653.5L442.3 652.7L440.5 651.9L438.8 650.9L436.9 650.0L435.1 649.0L433.2 648.0L431.3 646.9L429.3 645.8L427.4 644.8L425.4 643.7L423.5 642.7L421.6 641.6L419.7 640.6L417.8 639.6L415.9 638.5L413.9 637.4L412.0 636.4L410.0 635.3L408.1 634.2L406.0 633.1L403.7 632.0L401.5 630.9L399.4 629.9L397.4 629.0L395.6 628.2L393.8 627.3L392.2 626.5L390.6 625.6L389.1 624.7L387.6 623.6L386.0 622.4L384.3 620.9L382.4 619.2L380.4 617.4L378.4 615.4L376.4 613.4L374.4 611.4L372.3 609.4L370.4 607.4L368.5 605.5L366.8 603.9L365.3 602.4L363.8 600.9L362.4 599.5L361.1 598.1L359.7 596.7L358.4 595.3L357.0 593.9L355.6 592.5L354.2 591.0Z" fill="#FAD390" stroke="#EE6E55" stroke-width="3.3" stroke-linejoin="round"/>
<path d="M452.2 474.4L453.6 474.9L455.0 475.3L456.3 475.8L457.5 476.2L458.9 476.6L460.3 477.1L461.8 477.6L463.4 478.1L465.2 478.7L467.3 479.4L469.5 480.2L472.0 481.0L474.7 481.8L477.5 482.7L480.4 483.7L483.4 484.6L486.4 485.6L489.4 486.6L492.4 487.5L495.4 488.4L498.3 489.4L501.3 490.3L504.3 491.1L507.3 492.0L510.2 492.9L513.2 493.7L516.0 494.6L518.7 495.5L521.4 496.4L523.9 497.3L526.4 498.3L528.9 499.2L531.3 500.2L533.6 501.1L535.8 502.1L538.0 503.1L540.1 504.1L542.2 505.2L544.3 506.3L546.4 507.5L548.5 508.8L550.6 510.2L552.7 511.6L554.7 513.0L556.8 514.5L558.9 516.1L561.0 517.8L563.1 519.5L565.2 521.4L567.3 523.2L569.4 525.1L571.4 527.1L573.5 529.3L575.6 531.6L577.8 533.9L580.0 536.4L582.2 538.8L584.5 541.2L586.8 543.7L589.2 546.0L591.5 548.2L593.7 550.3L596.0 552.4L598.3 554.5L600.6 556.6L603.0 558.7L605.5 560.7L608.1 562.7L610.7 564.7L613.5 566.6L616.2 568.4L619.0 570.1L621.9 571.7L624.8 573.3L627.7 574.8L630.7 576.3L633.7 577.8L636.7 579.2L639.8 580.5L643.0 581.9L646.4 583.2L649.9 584.5L653.4 585.8L656.9 587.0L660.5 588.1L664.1 589.3L667.6 590.4L671.0 591.5L674.3 592.6L677.6 593.8L681.0 594.9L684.3 596.0L687.7 597.1L691.0 598.1L694.2 599.1L697.3 600.1L700.2 601.1L702.9 602.2L705.5 603.3L707.8 604.4L709.9 605.6L711.9 606.9L713.8 608.3L715.6 609.7L717.4 611.2L719.1 612.7L720.8 614.3L722.4 615.9L724.0 617.5L725.6 618.9L727.0 620.2L728.2 621.4L729.3 622.6L730.3 623.8L731.3 624.9L732.3 626.1L733.2 627.3L734.3 628.6L735.4 629.9L736.5 631.2L738.3 632.7L740.4 633.3L742.7 633.1L744.7 632.0L746.2 630.2L746.8 628.1L746.6 625.8L745.5 623.8L744.5 622.5L743.6 621.3L742.7 620.0L741.7 618.8L740.7 617.4L739.7 616.1L738.5 614.6L737.2 613.1L735.9 611.6L734.4 610.1L732.9 608.5L731.4 607.0L729.8 605.2L728.0 603.5L726.1 601.6L724.1 599.7L721.9 597.9L719.5 596.0L717.0 594.3L714.2 592.6L711.3 591.1L708.3 589.6L705.1 588.3L701.9 587.1L698.7 585.9L695.4 584.8L692.1 583.6L688.8 582.5L685.6 581.4L682.4 580.2L679.0 579.0L675.6 577.8L672.1 576.7L668.6 575.5L665.1 574.3L661.7 573.1L658.3 571.9L655.1 570.7L652.0 569.4L649.0 568.1L646.0 566.8L643.2 565.4L640.3 564.0L637.6 562.6L634.9 561.2L632.3 559.7L629.8 558.2L627.3 556.6L624.9 555.1L622.5 553.4L620.3 551.7L618.0 550.0L615.9 548.2L613.7 546.3L611.6 544.4L609.5 542.4L607.4 540.3L605.2 538.2L603.0 536.1L600.8 534.0L598.7 531.9L596.6 529.7L594.5 527.5L592.3 525.1L590.1 522.7L587.9 520.3L585.7 517.8L583.4 515.4L581.0 513.1L578.7 510.8L576.4 508.7L574.2 506.7L572.0 504.7L569.7 502.8L567.4 501.0L565.1 499.1L562.8 497.4L560.5 495.7L558.0 494.0L555.6 492.5L553.1 491.0L550.6 489.6L548.1 488.3L545.6 487.1L543.0 485.9L540.5 484.8L538.0 483.8L535.4 482.7L532.8 481.7L530.1 480.7L527.2 479.7L524.3 478.7L521.3 477.7L518.3 476.8L515.3 475.9L512.2 475.0L509.3 474.1L506.3 473.3L503.5 472.4L500.6 471.6L497.8 470.6L494.8 469.7L491.8 468.7L488.8 467.8L485.8 466.8L482.9 465.9L480.1 465.0L477.5 464.1L475.0 463.3L472.7 462.6L470.7 461.9L468.9 461.3L467.3 460.8L465.9 460.3L464.5 459.9L463.2 459.4L461.9 459.0L460.6 458.5L459.3 458.1L457.8 457.6Z" fill="#FAD390" stroke="#EE6E55" stroke-width="3.3" stroke-linejoin="round"/>
<path d="M96.0 287.0C99.3 282.8 104.0 278.7 108.0 275.0C112.0 271.3 116.2 268.0 120.0 265.0C123.8 262.0 126.7 259.9 131.0 257.0C135.3 254.1 140.2 251.0 146.0 247.5C151.8 244.0 159.3 239.4 166.0 236.0C172.7 232.6 179.3 230.0 186.0 227.0C192.7 224.0 200.0 221.0 206.0 218.0C212.0 215.0 216.0 211.4 222.0 209.0C228.0 206.6 235.3 205.1 242.0 203.5C248.7 201.9 254.3 200.7 262.0 199.5C269.7 198.3 280.2 197.4 288.0 196.5C295.8 195.6 302.0 195.7 309.0 194.0C316.0 192.3 323.3 188.1 330.0 186.5C336.7 184.9 342.3 184.2 349.0 184.5C355.7 184.8 363.2 186.1 370.0 188.0C376.8 189.9 383.3 192.7 390.0 196.0C396.7 199.3 403.3 203.8 410.0 208.0C416.7 212.2 423.3 216.8 430.0 221.0C436.7 225.2 444.0 229.0 450.0 233.0C456.0 237.0 461.3 240.8 466.0 245.0C470.7 249.2 474.3 253.2 478.0 258.0C481.7 262.8 485.2 268.0 488.0 274.0C490.8 280.0 493.3 287.0 495.0 294.0C496.7 301.0 497.3 308.3 498.0 316.0C498.7 323.7 498.8 332.3 499.0 340.0C499.2 347.7 499.3 354.5 499.0 362.0C498.7 369.5 498.0 377.0 497.0 385.0C496.0 393.0 494.5 402.2 493.0 410.0C491.5 417.8 490.2 425.0 488.0 432.0C485.8 439.0 482.7 446.3 480.0 452.0C477.3 457.7 474.2 460.3 472.0 466.0C469.8 471.7 468.2 479.7 467.0 486.0C465.8 492.3 466.2 499.3 465.0 504.0C463.8 508.7 461.7 509.7 460.0 514.0C458.3 518.3 456.8 524.2 455.0 530.0C453.2 535.8 451.3 543.5 449.0 549.0C446.7 554.5 444.5 559.5 441.0 563.0C437.5 566.5 433.2 567.3 428.0 570.0C422.8 572.7 416.2 575.3 410.0 579.0C403.8 582.7 397.3 587.5 391.0 592.0C384.7 596.5 378.2 602.7 372.0 606.0C365.8 609.3 359.7 610.3 354.0 612.0C348.3 613.7 344.3 615.1 338.0 616.0C331.7 616.9 324.0 617.1 316.0 617.5C308.0 617.9 299.0 617.2 290.0 618.5C281.0 619.8 270.0 623.4 262.0 625.0C254.0 626.6 248.0 627.0 242.0 628.0C236.0 629.0 231.5 630.1 226.0 631.0C220.5 631.9 214.7 632.3 209.0 633.5C203.3 634.7 197.3 636.8 192.0 638.0C186.7 639.2 180.6 641.2 177.0 641.0C173.4 640.8 171.5 639.2 170.5 637.0C169.5 634.8 171.5 630.8 171.0 628.0C170.5 625.2 169.7 622.4 167.5 620.5C165.3 618.6 161.2 616.7 158.0 616.5C154.8 616.3 151.1 617.8 148.5 619.5C145.9 621.2 143.4 624.5 142.5 627.0C141.6 629.5 143.5 632.3 143.0 634.5C142.5 636.7 141.5 639.8 139.5 640.0C137.5 640.2 134.2 638.2 131.0 636.0C127.8 633.8 123.8 630.2 120.0 627.0C116.2 623.8 111.3 620.7 108.0 617.0C104.7 613.3 102.3 609.3 100.0 605.0C97.7 600.7 96.2 596.0 94.0 591.0C91.8 586.0 89.2 580.7 87.0 575.0C84.8 569.3 82.7 562.7 81.0 557.0C79.3 551.3 78.0 545.8 77.0 541.0C76.0 536.2 75.8 532.5 75.0 528.0C74.2 523.5 73.3 518.2 72.0 514.0C70.7 509.8 69.5 506.8 67.0 503.0C64.5 499.2 59.4 495.5 57.0 491.0C54.6 486.5 53.6 480.8 52.5 476.0C51.4 471.2 50.9 466.0 50.5 462.0C50.1 458.0 50.5 454.7 50.0 452.0C49.5 449.3 47.8 449.3 47.5 446.0C47.2 442.7 48.0 436.3 48.0 432.0C48.0 427.7 47.3 423.8 47.5 420.0C47.7 416.2 49.1 412.0 49.0 409.0C48.9 406.0 47.1 405.2 47.0 402.0C46.9 398.8 47.3 394.3 48.5 390.0C49.7 385.7 52.1 380.7 54.0 376.0C55.9 371.3 58.2 366.3 60.0 362.0C61.8 357.7 63.5 353.2 65.0 350.0C66.5 346.8 67.5 345.8 69.0 343.0C70.5 340.2 72.2 337.2 74.0 333.0C75.8 328.8 77.7 323.5 80.0 318.0C82.3 312.5 85.3 305.2 88.0 300.0C90.7 294.8 92.7 291.2 96.0 287.0Z" fill="#F9D292"/>
<g clip-path="url(#bodyclip)">
<g filter="url(#blur2)"><g clip-path="url(#wedge)">
<circle cx="312" cy="262" r="113" fill="#FAD9A0"/>
<circle cx="312" cy="262" r="97" fill="#FCE2B5"/>
</g></g>
<path d="M120.0 660.0C123.3 653.3 132.5 631.7 140.0 620.0C147.5 608.3 161.7 602.5 165.0 590.0C168.3 577.5 162.5 560.0 160.0 545.0C157.5 530.0 151.3 514.2 150.0 500.0C148.7 485.8 150.3 472.5 152.0 460.0C153.7 447.5 156.7 435.8 160.0 425.0C163.3 414.2 167.0 404.5 172.0 395.0C177.0 385.5 182.8 376.3 190.0 368.0C197.2 359.7 205.0 351.3 215.0 345.0C225.0 338.7 235.8 332.8 250.0 330.0C264.2 327.2 283.3 328.0 300.0 328.0C316.7 328.0 335.0 331.7 350.0 330.0C365.0 328.3 380.0 324.7 390.0 318.0C400.0 311.3 405.8 299.7 410.0 290.0C414.2 280.3 415.8 270.8 415.0 260.0C414.2 249.2 409.2 235.0 405.0 225.0C400.8 215.0 395.0 207.5 390.0 200.0C385.0 192.5 377.5 183.3 375.0 180.0 L300 150 L150 180 L60 250 L20 350 L20 450 L40 560 L80 660 Z" fill="#FBDEA9" opacity="0.85" filter="url(#blur5)"/>
<path d="M108.0 640.0C108.7 635.3 107.8 621.7 112.0 612.0C116.2 602.3 131.2 593.2 133.0 582.0C134.8 570.8 125.5 558.7 123.0 545.0C120.5 531.3 118.3 514.2 118.0 500.0C117.7 485.8 119.0 473.3 121.0 460.0C123.0 446.7 127.2 430.8 130.0 420.0C132.8 409.2 134.7 403.3 138.0 395.0C141.3 386.7 143.8 379.7 150.0 370.0C156.2 360.3 165.0 346.3 175.0 337.0C185.0 327.7 197.5 319.3 210.0 314.0C222.5 308.7 235.0 306.2 250.0 305.0C265.0 303.8 283.3 306.3 300.0 307.0C316.7 307.7 337.3 310.8 350.0 309.0C362.7 307.2 369.0 301.5 376.0 296.0C383.0 290.5 388.3 283.0 392.0 276.0C395.7 269.0 397.7 262.0 398.0 254.0C398.3 246.0 396.2 235.8 394.0 228.0C391.8 220.2 388.7 213.3 385.0 207.0C381.3 200.7 375.3 196.2 372.0 190.0C368.7 183.8 366.2 173.3 365.0 170.0 L300 150 L150 180 L60 250 L20 350 L20 450 L40 560 L80 640 Z" fill="#FDEAC8" filter="url(#blur2)"/>
<path d="M186 505 C186 475 215 448 262 420 C300 395 325 355 355 336 C375 326 392 335 386 356 C374 384 334 400 314 422 C302 452 292 482 262 506 C240 522 198 528 186 505 Z" fill="#F3C68D" opacity="0.9" filter="url(#blur3)"/>
<path d="M215 335 C270 316 330 312 380 326 C400 350 395 395 375 420 C340 440 305 470 285 508 C255 528 215 530 195 505 C160 470 165 385 215 335 Z" fill="#F5CB90" opacity="0.5" filter="url(#blur8)"/>
<path d="M96.0 287.0C99.3 282.8 104.0 278.7 108.0 275.0C112.0 271.3 116.2 268.0 120.0 265.0C123.8 262.0 126.7 259.9 131.0 257.0C135.3 254.1 140.2 251.0 146.0 247.5C151.8 244.0 159.3 239.4 166.0 236.0C172.7 232.6 179.3 230.0 186.0 227.0C192.7 224.0 200.0 221.0 206.0 218.0C212.0 215.0 216.0 211.4 222.0 209.0C228.0 206.6 235.3 205.1 242.0 203.5C248.7 201.9 254.3 200.7 262.0 199.5C269.7 198.3 280.2 197.4 288.0 196.5C295.8 195.6 302.0 195.7 309.0 194.0C316.0 192.3 323.3 188.1 330.0 186.5C336.7 184.9 342.3 184.2 349.0 184.5C355.7 184.8 363.2 186.1 370.0 188.0C376.8 189.9 383.3 192.7 390.0 196.0C396.7 199.3 403.3 203.8 410.0 208.0C416.7 212.2 423.3 216.8 430.0 221.0C436.7 225.2 444.0 229.0 450.0 233.0C456.0 237.0 461.3 240.8 466.0 245.0C470.7 249.2 474.3 253.2 478.0 258.0C481.7 262.8 485.2 268.0 488.0 274.0C490.8 280.0 493.3 287.0 495.0 294.0C496.7 301.0 497.3 308.3 498.0 316.0C498.7 323.7 498.8 332.3 499.0 340.0C499.2 347.7 499.3 354.5 499.0 362.0C498.7 369.5 498.0 377.0 497.0 385.0C496.0 393.0 494.5 402.2 493.0 410.0C491.5 417.8 490.2 425.0 488.0 432.0C485.8 439.0 482.7 446.3 480.0 452.0C477.3 457.7 474.2 460.3 472.0 466.0C469.8 471.7 468.2 479.7 467.0 486.0C465.8 492.3 466.2 499.3 465.0 504.0C463.8 508.7 461.7 509.7 460.0 514.0C458.3 518.3 456.8 524.2 455.0 530.0C453.2 535.8 451.3 543.5 449.0 549.0C446.7 554.5 444.5 559.5 441.0 563.0C437.5 566.5 433.2 567.3 428.0 570.0C422.8 572.7 416.2 575.3 410.0 579.0C403.8 582.7 397.3 587.5 391.0 592.0C384.7 596.5 378.2 602.7 372.0 606.0C365.8 609.3 359.7 610.3 354.0 612.0C348.3 613.7 344.3 615.1 338.0 616.0C331.7 616.9 324.0 617.1 316.0 617.5C308.0 617.9 299.0 617.2 290.0 618.5C281.0 619.8 270.0 623.4 262.0 625.0C254.0 626.6 248.0 627.0 242.0 628.0C236.0 629.0 231.5 630.1 226.0 631.0C220.5 631.9 214.7 632.3 209.0 633.5C203.3 634.7 197.3 636.8 192.0 638.0C186.7 639.2 180.6 641.2 177.0 641.0C173.4 640.8 171.5 639.2 170.5 637.0C169.5 634.8 171.5 630.8 171.0 628.0C170.5 625.2 169.7 622.4 167.5 620.5C165.3 618.6 161.2 616.7 158.0 616.5C154.8 616.3 151.1 617.8 148.5 619.5C145.9 621.2 143.4 624.5 142.5 627.0C141.6 629.5 143.5 632.3 143.0 634.5C142.5 636.7 141.5 639.8 139.5 640.0C137.5 640.2 134.2 638.2 131.0 636.0C127.8 633.8 123.8 630.2 120.0 627.0C116.2 623.8 111.3 620.7 108.0 617.0C104.7 613.3 102.3 609.3 100.0 605.0C97.7 600.7 96.2 596.0 94.0 591.0C91.8 586.0 89.2 580.7 87.0 575.0C84.8 569.3 82.7 562.7 81.0 557.0C79.3 551.3 78.0 545.8 77.0 541.0C76.0 536.2 75.8 532.5 75.0 528.0C74.2 523.5 73.3 518.2 72.0 514.0C70.7 509.8 69.5 506.8 67.0 503.0C64.5 499.2 59.4 495.5 57.0 491.0C54.6 486.5 53.6 480.8 52.5 476.0C51.4 471.2 50.9 466.0 50.5 462.0C50.1 458.0 50.5 454.7 50.0 452.0C49.5 449.3 47.8 449.3 47.5 446.0C47.2 442.7 48.0 436.3 48.0 432.0C48.0 427.7 47.3 423.8 47.5 420.0C47.7 416.2 49.1 412.0 49.0 409.0C48.9 406.0 47.1 405.2 47.0 402.0C46.9 398.8 47.3 394.3 48.5 390.0C49.7 385.7 52.1 380.7 54.0 376.0C55.9 371.3 58.2 366.3 60.0 362.0C61.8 357.7 63.5 353.2 65.0 350.0C66.5 346.8 67.5 345.8 69.0 343.0C70.5 340.2 72.2 337.2 74.0 333.0C75.8 328.8 77.7 323.5 80.0 318.0C82.3 312.5 85.3 305.2 88.0 300.0C90.7 294.8 92.7 291.2 96.0 287.0Z" fill="none" stroke="#FAD390" stroke-width="7.5"/>
<path d="M47.0 385.0C47.1 390.8 47.3 412.2 47.5 420.0C47.7 427.8 47.6 426.7 48.0 432.0C48.4 437.3 49.2 444.7 50.0 452.0C50.8 459.3 51.3 469.5 52.5 476.0C53.7 482.5 54.6 486.5 57.0 491.0C59.4 495.5 64.5 499.2 67.0 503.0C69.5 506.8 70.7 509.8 72.0 514.0C73.3 518.2 74.2 523.5 75.0 528.0C75.8 532.5 76.0 536.2 77.0 541.0C78.0 545.8 79.3 551.3 81.0 557.0C82.7 562.7 84.8 569.3 87.0 575.0C89.2 580.7 91.8 586.0 94.0 591.0C96.2 596.0 97.7 600.7 100.0 605.0C102.3 609.3 104.7 613.3 108.0 617.0C111.3 620.7 116.2 623.8 120.0 627.0C123.8 630.2 127.7 633.5 131.0 636.0C134.3 638.5 138.5 641.0 140.0 642.0" fill="none" stroke="#FAD390" stroke-width="21" stroke-linecap="round" stroke-linejoin="round"/>
</g>
<ellipse cx="150.5" cy="515.0" rx="33.5" ry="57.0" transform="rotate(-6.0 150.5 515.0)" fill="url(#gBlueL)"/>
<ellipse cx="150.5" cy="515.0" rx="33.5" ry="57.0" transform="rotate(-6.0 150.5 515.0)" fill="url(#gEdge)" stroke="#3D7FAE" stroke-width="1.3"/>
<ellipse cx="164.5" cy="351.5" rx="37.0" ry="54.0" transform="rotate(39.0 164.5 351.5)" fill="url(#gBlueL)"/>
<ellipse cx="164.5" cy="351.5" rx="37.0" ry="54.0" transform="rotate(39.0 164.5 351.5)" fill="url(#gEdge)" stroke="#3D7FAE" stroke-width="1.3"/>
<ellipse cx="361.0" cy="438.0" rx="37.0" ry="54.0" transform="rotate(-32.0 361.0 438.0)" fill="url(#gBlueL3)"/>
<ellipse cx="361.0" cy="438.0" rx="37.0" ry="54.0" transform="rotate(-32.0 361.0 438.0)" fill="url(#gEdge)" stroke="#3D7FAE" stroke-width="1.3"/>
<circle cx="311.3" cy="266.0" r="43.4" fill="url(#gBlue2)" stroke="#C7372B" stroke-width="2.2" stroke-dasharray="8.6 4.9"/>
<circle cx="432.4" cy="358.5" r="43.4" fill="url(#gBlue2)" stroke="#C7372B" stroke-width="2.2" stroke-dasharray="8.6 4.9"/>
<ellipse cx="312.0" cy="540.0" rx="35.5" ry="54.5" transform="rotate(-23.0 312.0 540.0)" fill="url(#gTeal)" stroke="#2A8796" stroke-width="1.2"/>
<ellipse cx="351.0" cy="517.5" rx="17.5" ry="26.5" transform="rotate(-22.0 351.0 517.5)" fill="#3BA3B1" stroke="#2A8796" stroke-width="1"/>
<ellipse cx="350.5" cy="516.5" rx="13.0" ry="20.5" transform="rotate(-22.0 350.5 516.5)" fill="url(#gBlue)"/>
<circle cx="319.6" cy="518.0" r="3.2" fill="#A6E2EC"/>
<circle cx="326.0" cy="527.0" r="3.2" fill="#A6E2EC"/>
<circle cx="335.0" cy="531.0" r="3.2" fill="#A6E2EC"/>
<circle cx="302.4" cy="533.0" r="3.2" fill="#A6E2EC"/>
<circle cx="332.0" cy="539.0" r="3.2" fill="#A6E2EC"/>
<circle cx="308.0" cy="545.6" r="3.2" fill="#A6E2EC"/>
<circle cx="335.0" cy="547.0" r="3.2" fill="#A6E2EC"/>
<circle cx="313.6" cy="553.0" r="3.2" fill="#A6E2EC"/>
<circle cx="290.0" cy="550.0" r="3.2" fill="#A6E2EC"/>
<ellipse cx="317.0" cy="539.0" rx="10.5" ry="24.0" transform="rotate(-30.0 317.0 539.0)" fill="url(#gAntG)" stroke="#D2622E" stroke-width="1.4"/>
<rect x="135.8" y="501.4" width="14.5" height="8.5" rx="4.2" transform="rotate(-15.0 143.0 505.6)" fill="url(#gAnt)" stroke="#E9953F" stroke-width="1.2"/>
<rect x="147.9" y="527.4" width="13.0" height="8.0" rx="4.0" transform="rotate(-8.0 154.4 531.4)" fill="url(#gAnt)" stroke="#E9953F" stroke-width="1.2"/>
<rect x="162.8" y="328.8" width="14.5" height="8.5" rx="4.2" transform="rotate(15.0 170.0 333.0)" fill="url(#gAnt)" stroke="#E9953F" stroke-width="1.2"/>
<rect x="150.8" y="355.1" width="14.5" height="8.5" rx="4.2" transform="rotate(-40.0 158.0 359.4)" fill="url(#gAnt)" stroke="#E9953F" stroke-width="1.2"/>
<rect x="364.5" y="424.0" width="13.0" height="8.0" rx="4.0" transform="rotate(-65.0 371.0 428.0)" fill="url(#gAntG)" stroke="#C8793A" stroke-width="1.1"/>
<rect x="350.5" y="446.4" width="13.0" height="8.0" rx="4.0" transform="rotate(-15.0 357.0 450.4)" fill="url(#gAntG)" stroke="#C8793A" stroke-width="1.1"/>
<path d="M-10.5 -14.5L0.0 -1.5L10.5 -14.5L10.5 14.5L-10.5 14.5Z" transform="translate(193.0 407.5) rotate(0.0)" fill="url(#gGreen)" stroke="#5F8A55" stroke-width="1" stroke-linejoin="miter"/>
<path d="M-11.0 -15.0L0.0 -2.0L11.0 -15.0L11.0 15.0L-11.0 15.0Z" transform="translate(238.0 341.0) rotate(-115.0)" fill="url(#gGreen)" stroke="#5F8A55" stroke-width="1" stroke-linejoin="miter"/>
<path d="M-10.2 -14.5L0.0 -1.5L10.2 -14.5L10.2 14.5L-10.2 14.5Z" transform="translate(440.0 441.5) rotate(-113.0)" fill="url(#gGreen)" stroke="#5F8A55" stroke-width="1" stroke-linejoin="miter"/>
<path d="M-10.5 -15.0L0.0 -2.0L10.5 -15.0L10.5 15.0L-10.5 15.0Z" transform="translate(414.0 517.5) rotate(-5.0)" fill="url(#gGreen)" stroke="#5F8A55" stroke-width="1" stroke-linejoin="miter"/>
<path d="M-10.5 -14.5L0.0 -2.5L10.5 -14.5L10.5 14.5L-10.5 14.5Z" transform="translate(315.0 247.0) rotate(-34.0)" fill="url(#gGreen)" stroke="#5F8A55" stroke-width="1" stroke-linejoin="miter"/>
<rect x="301.8" y="234.8" width="12.5" height="8.0" rx="4.0" transform="rotate(68.0 308.0 238.8)" fill="url(#gAnt)" stroke="#E9953F" stroke-width="1.2"/>
<path d="M-10.0 -14.0L0.0 -3.0L10.0 -14.0L10.0 14.0L-10.0 14.0Z" transform="translate(304.5 282.5) rotate(76.0)" fill="url(#gGreen)" stroke="#5F8A55" stroke-width="1" stroke-linejoin="miter"/>
<rect x="310.0" y="275.8" width="12.0" height="8.0" rx="4.0" transform="rotate(-12.0 316.0 279.8)" fill="url(#gAnt)" stroke="#E9953F" stroke-width="1.2"/>
<path d="M-9.5 -14.5L0.0 -1.5L9.5 -14.5L9.5 14.5L-9.5 14.5Z" transform="translate(428.0 341.0) rotate(0.0)" fill="url(#gGreen)" stroke="#5F8A55" stroke-width="1" stroke-linejoin="miter"/>
<rect x="421.5" y="327.0" width="12.0" height="8.0" rx="4.0" transform="rotate(80.0 427.5 331.0)" fill="url(#gAntG)" stroke="#C8793A" stroke-width="1.1"/>
<path d="M-10.0 -15.0L0.0 -4.0L10.0 -15.0L10.0 15.0L-10.0 15.0Z" transform="translate(436.5 378.0) rotate(62.0)" fill="url(#gGreen)" stroke="#5F8A55" stroke-width="1" stroke-linejoin="miter"/>
<rect x="440.0" y="368.5" width="12.0" height="8.0" rx="4.0" transform="rotate(-35.0 446.0 372.5)" fill="url(#gAntG)" stroke="#C8793A" stroke-width="1.1"/>
<path d="M162.8 612.0L162.8 610.3L162.8 608.6L162.8 606.9L162.8 605.2L162.8 603.5L162.8 601.8L162.8 600.1L162.8 598.4L162.8 596.7L162.8 595.0L162.8 593.3L162.8 592.0L167.8 592.0L159.5 577.5L151.2 592.0L156.2 592.0L156.2 593.3L156.2 595.0L156.2 596.7L156.2 598.4L156.2 600.1L156.2 601.8L156.2 603.5L156.2 605.2L156.2 606.9L156.2 608.6L156.2 610.3L156.2 612.0Z" fill="#F28C1E"/>
<path d="M134.6 458.1L134.1 456.2L133.5 454.3L132.9 452.4L132.4 450.5L131.8 448.6L131.3 446.8L130.8 445.0L130.4 443.2L130.0 441.4L129.7 439.6L129.5 437.7L129.4 435.8L129.3 433.9L129.2 431.9L129.2 429.9L129.2 428.0L129.3 426.0L129.4 424.1L129.6 422.2L129.7 420.4L130.0 418.6L130.1 417.8L135.2 419.1L130.5 402.5L118.7 415.0L123.8 416.3L123.5 417.7L123.3 419.6L123.1 421.6L122.9 423.6L122.8 425.7L122.7 427.8L122.7 429.9L122.7 432.0L122.8 434.1L122.9 436.2L123.0 438.3L123.3 440.4L123.6 442.5L124.0 444.6L124.5 446.6L125.0 448.5L125.6 450.5L126.2 452.4L126.7 454.3L127.3 456.2L127.9 458.0L128.4 459.9Z" fill="#F28C1E"/>
<path d="M206.5 306.9L208.8 305.7L211.2 304.4L213.5 303.1L215.9 301.9L218.2 300.6L220.5 299.4L222.8 298.2L225.1 297.0L227.2 296.0L229.4 294.9L231.5 294.0L233.6 293.1L235.6 292.2L237.7 291.4L239.7 290.6L241.7 289.8L243.6 289.1L245.5 288.4L247.3 287.7L249.1 287.1L249.6 286.9L251.1 291.9L263.0 279.5L246.2 275.6L247.7 280.7L246.9 280.9L245.1 281.6L243.2 282.3L241.3 283.0L239.3 283.7L237.3 284.5L235.2 285.3L233.1 286.2L231.0 287.1L228.8 288.1L226.6 289.1L224.4 290.1L222.1 291.2L219.8 292.4L217.5 293.6L215.2 294.9L212.8 296.1L210.5 297.4L208.1 298.7L205.8 299.9L203.5 301.1Z" fill="#F28C1E"/>
<path d="M491.5 681.7L490.2 681.3L488.9 680.9L487.6 680.5L486.3 680.0L485.1 679.6L483.8 679.2L482.4 678.8L481.0 678.3L479.5 677.8L477.9 677.3L476.2 676.7L474.4 676.1L472.6 675.5L470.6 674.8L468.7 674.2L466.7 673.5L464.7 672.8L462.7 672.1L460.7 671.4L458.8 670.7L456.9 670.0L455.0 669.3L453.0 668.6L451.1 667.9L449.2 667.2L447.4 666.4L445.5 665.7L443.6 664.9L441.8 664.0L439.9 663.1L438.1 662.1L436.2 661.1L434.2 659.9L432.3 658.7L430.4 657.5L428.4 656.2L426.5 655.0L424.5 653.8L422.6 652.6L420.7 651.5L418.9 650.4L417.1 649.5L415.3 648.5L413.5 647.6L411.8 646.7L410.1 645.9L408.5 645.0L406.9 644.2L405.4 643.4L403.9 642.5L402.4 641.6L401.0 640.8L399.6 639.9L398.3 639.0L397.0 638.2L395.8 637.3L394.5 636.4L393.2 635.5L392.0 634.6L390.8 633.7L389.5 632.7L388.3 631.8L387.1 630.7L385.9 629.7L384.6 628.7L383.4 627.6L382.2 626.5L381.1 625.5L379.9 624.4L378.7 623.4L377.6 622.4L376.4 621.4L375.3 620.4L374.2 619.5L373.1 618.5L372.0 617.5L371.0 616.6L369.9 615.7L368.9 614.8L368.0 613.9L367.0 613.0L366.1 612.2L365.3 611.4L364.5 610.7L363.8 610.0L363.0 609.3L362.2 608.5L361.5 607.7L360.7 606.8L359.8 605.8L358.9 604.7L358.7 604.4L363.2 601.1L347.5 594.0L349.5 611.1L354.0 607.8L354.4 608.4L355.4 609.6L356.3 610.7L357.2 611.7L358.1 612.6L358.9 613.4L359.8 614.2L360.6 615.0L361.4 615.7L362.2 616.5L363.1 617.3L364.0 618.1L365.0 619.0L366.0 620.0L367.1 620.9L368.2 621.9L369.2 622.8L370.3 623.8L371.5 624.8L372.6 625.8L373.7 626.8L374.9 627.8L376.0 628.8L377.2 629.8L378.4 630.9L379.6 631.9L380.8 633.0L382.1 634.1L383.3 635.2L384.6 636.2L385.9 637.3L387.2 638.3L388.5 639.3L389.8 640.2L391.1 641.2L392.5 642.1L393.8 643.0L395.1 643.9L396.5 644.8L397.9 645.7L399.4 646.6L400.9 647.5L402.5 648.4L404.1 649.3L405.8 650.2L407.5 651.1L409.2 651.9L410.9 652.8L412.6 653.7L414.3 654.6L416.1 655.5L417.9 656.5L419.6 657.6L421.5 658.7L423.4 659.9L425.3 661.1L427.2 662.4L429.2 663.6L431.2 664.9L433.2 666.1L435.3 667.2L437.3 668.3L439.3 669.3L441.3 670.2L443.2 671.0L445.2 671.8L447.2 672.6L449.1 673.3L451.0 674.0L453.0 674.7L454.9 675.4L456.8 676.1L458.8 676.8L460.8 677.6L462.8 678.3L464.8 679.0L466.8 679.6L468.8 680.3L470.7 681.0L472.6 681.6L474.4 682.2L476.1 682.7L477.7 683.3L479.2 683.8L480.6 684.3L481.9 684.7L483.2 685.1L484.5 685.6L485.8 686.0L487.1 686.4L488.4 686.8L489.7 687.3Z" fill="#6F8C5E"/>
<path d="M298.5 482.5L298.7 481.0L298.8 479.6L299.0 478.1L299.1 476.7L299.2 475.4L299.4 474.0L299.6 472.7L299.8 471.5L300.0 470.2L300.4 468.9L300.8 467.6L301.2 466.3L301.6 465.0L302.1 463.7L302.6 462.4L303.1 461.1L303.7 459.8L304.4 458.5L305.1 457.2L305.9 455.9L306.8 454.6L307.8 453.3L308.1 453.0L312.2 456.7L315.5 439.5L298.8 444.6L302.9 448.3L302.3 449.0L301.2 450.5L300.1 452.1L299.1 453.6L298.2 455.2L297.5 456.7L296.7 458.2L296.1 459.7L295.5 461.2L295.0 462.7L294.5 464.1L294.1 465.6L293.6 467.1L293.2 468.6L292.9 470.1L292.6 471.7L292.4 473.2L292.3 474.6L292.1 476.1L292.0 477.5L291.9 478.8L291.7 480.2L291.5 481.5Z" fill="#6F8C5E"/>
<path d="M347.5 387.8L348.2 386.6L349.0 385.3L349.7 384.1L350.4 382.9L351.1 381.7L351.7 380.5L352.4 379.4L353.2 378.3L353.9 377.2L354.8 376.2L355.7 375.0L356.6 373.9L357.5 372.8L358.5 371.7L359.4 370.6L360.5 369.6L361.5 368.6L362.6 367.7L363.7 366.8L364.9 365.9L366.2 365.1L367.6 364.4L367.5 364.5L369.6 369.5L380.0 355.5L362.7 352.9L364.8 358.0L364.4 358.2L362.7 359.1L361.1 360.1L359.6 361.1L358.1 362.3L356.8 363.4L355.5 364.6L354.4 365.8L353.2 367.0L352.2 368.2L351.2 369.5L350.2 370.6L349.2 371.8L348.3 373.1L347.4 374.4L346.5 375.6L345.8 376.9L345.0 378.2L344.3 379.4L343.6 380.6L342.9 381.8L342.2 383.0L341.5 384.2Z" fill="#6F8C5E"/>
<path d="M393.0 271.5C395.8 271.8 404.7 272.4 410.0 273.5C415.3 274.6 420.0 275.9 425.0 278.0C430.0 280.1 434.2 282.3 440.0 286.0C445.8 289.7 453.3 294.7 460.0 300.0C466.7 305.3 474.3 313.2 480.0 318.0C485.7 322.8 489.7 326.1 494.0 328.5C498.3 330.9 502.0 332.2 506.0 332.5C510.0 332.8 516.0 330.4 518.0 330.0" fill="none" stroke="#D3382A" stroke-width="7"/>
<path d="M485.9 353.4L488.6 351.6L491.3 349.8L493.9 348.0L496.6 346.3L499.2 344.6L501.8 343.0L504.4 341.5L507.0 340.1L509.6 338.8L512.3 337.4L515.0 336.0L517.7 334.6L520.2 333.2L522.4 331.9L524.7 330.7L527.2 329.3L530.1 327.7L533.7 325.7L538.1 323.2L543.2 320.3L548.7 317.2L554.4 314.0L560.1 310.9L565.6 308.1L570.9 305.5L576.2 303.0L581.4 300.5L586.7 298.2L592.0 295.9L597.3 293.8L602.5 291.7L607.8 289.9L613.1 288.1L618.4 286.3L623.8 284.5L629.2 282.6L634.8 280.4L640.6 278.2L646.3 275.9L651.8 273.6L656.9 271.5L661.3 269.7L664.9 268.3L667.8 267.1L670.2 266.1L672.4 265.2L674.7 264.3L677.3 263.3L680.2 262.2L682.7 261.2L684.3 265.7L694.7 253.2L678.7 250.2L680.3 254.6L677.7 255.6L674.7 256.7L672.1 257.8L669.7 258.7L667.5 259.6L665.1 260.6L662.2 261.8L658.7 263.3L654.3 265.0L649.2 267.1L643.7 269.4L638.0 271.7L632.2 273.9L626.8 276.0L621.5 277.9L616.2 279.7L610.9 281.5L605.5 283.3L600.1 285.2L594.7 287.2L589.3 289.5L583.9 291.8L578.6 294.2L573.2 296.6L567.8 299.2L562.4 301.9L556.8 304.8L551.1 307.9L545.3 311.1L539.8 314.2L534.7 317.1L530.3 319.5L526.7 321.5L523.8 323.2L521.3 324.6L519.0 325.8L516.8 327.1L514.3 328.4L511.7 329.8L509.1 331.2L506.4 332.5L503.7 333.9L501.0 335.4L498.2 337.0L495.5 338.7L492.7 340.4L490.1 342.2L487.4 344.0L484.7 345.8L482.1 347.6Z" fill="#D3382A"/>
<path d="M220.5 348.0 Q198.0 354.0 185.1 343.6" fill="none" stroke="#000" stroke-width="2.2"/><path d="M180.0 339.5 L190.6 343.3 L185.8 344.1 L185.9 349.0 Z" fill="#000"/>
<path d="M193.0 393.5 Q191.0 372.0 174.6 365.5" fill="none" stroke="#000" stroke-width="2.2"/><path d="M168.5 363.0 L179.7 363.5 L175.4 365.7 L177.0 370.4 Z" fill="#000"/>
<path d="M423.0 447.0 Q398.0 447.0 384.4 437.3" fill="none" stroke="#000" stroke-width="2.2"/><path d="M379.0 433.5 L389.8 436.6 L385.0 437.8 L385.5 442.7 Z" fill="#000"/>
<path d="M413.0 502.0 Q403.0 470.0 374.1 458.0" fill="none" stroke="#000" stroke-width="2.2"/><path d="M368.0 455.5 L379.2 456.1 L374.8 458.3 L376.4 463.0 Z" fill="#000"/>
<path d="M338.0 251.5 Q375.0 246.0 392.2 259.0" fill="none" stroke="#000" stroke-width="2.2"/><path d="M397.5 263.0 L386.8 259.6 L391.6 258.5 L391.3 253.7 Z" fill="#000"/>
<path d="M328.0 283.5 Q362.0 295.0 387.2 286.6" fill="none" stroke="#000" stroke-width="2.2"/><path d="M393.5 284.5 L384.6 291.4 L386.5 286.8 L382.3 284.3 Z" fill="#000"/>
<path d="M445.0 329.5 Q470.0 322.0 479.6 332.6" fill="none" stroke="#000" stroke-width="2.2"/><path d="M484.0 337.5 L474.1 332.1 L479.0 332.0 L479.6 327.2 Z" fill="#000"/>
<path d="M458.0 372.5 Q480.0 374.0 488.2 364.5" fill="none" stroke="#000" stroke-width="2.2"/><path d="M492.5 359.5 L488.4 369.9 L487.7 365.1 L482.8 365.1 Z" fill="#000"/></g>
<rect x="149.2" y="623.5" width="15.5" height="9.0" rx="4.5" transform="rotate(5.0 157.0 628.0)" fill="url(#gAnt)" stroke="#E9953F" stroke-width="1.2"/>
<rect x="158.0" y="644.8" width="14.0" height="8.5" rx="4.2" transform="rotate(-12.0 165.0 649.0)" fill="url(#gAnt)" stroke="#E9953F" stroke-width="1.2"/>
<rect x="137.2" y="656.1" width="15.5" height="9.0" rx="4.5" transform="rotate(38.0 145.0 660.6)" fill="url(#gAnt)" stroke="#E9953F" stroke-width="1.2"/>
<rect x="149.2" y="687.6" width="15.5" height="9.5" rx="4.8" transform="rotate(-10.0 157.0 692.4)" fill="url(#gAnt)" stroke="#E9953F" stroke-width="1.2"/>
<ellipse cx="508.4" cy="711.6" rx="14.5" ry="28.0" transform="rotate(-17.0 508.4 711.6)" fill="#fff"/>
<path d="M493.5 702 C491 692 495 685.5 502 685 C512 684.5 520 695 524 708 C525.5 712 525.5 714 526 716" fill="none" stroke="#EE6E55" stroke-width="2.8" stroke-linecap="round"/>
<ellipse cx="508.4" cy="711.6" rx="11.0" ry="25.0" transform="rotate(-17.0 508.4 711.6)" fill="url(#gAntG)" stroke="#B8673A" stroke-width="1.2"/>
<path d="M717.0 199.0L729.0 207.5L735.0 191.0L747.5 218.5L730.0 226.0Z" fill="url(#gGreen)" stroke="#5F8A55" stroke-width="1"/>
<rect x="721.6" y="194.5" width="12.0" height="8.0" rx="4.0" transform="rotate(75.0 727.6 198.5)" fill="url(#gAnt)" stroke="#E9953F" stroke-width="1.2"/>
<path d="M736.0 242.0L754.0 234.0L766.0 260.0L755.0 253.5L749.0 269.0Z" fill="url(#gGreen)" stroke="#5F8A55" stroke-width="1"/>
<rect x="750.2" y="256.8" width="11.5" height="7.5" rx="3.8" transform="rotate(70.0 756.0 260.5)" fill="url(#gAntG)" stroke="#C8793A" stroke-width="1.1"/>
<path d="M880.0 209.0L898.0 190.0L900.0 204.0L914.0 203.0L896.0 222.0Z" fill="url(#gGreen)" stroke="#5F8A55" stroke-width="1"/>
<rect x="900.8" y="191.8" width="11.5" height="7.5" rx="3.8" transform="rotate(-36.0 906.5 195.5)" fill="url(#gAnt)" stroke="#E9953F" stroke-width="1.2"/>
<path d="M895.0 225.0L924.0 224.0L913.0 234.0L924.0 243.5L897.0 244.5Z" fill="url(#gGreen)" stroke="#5F8A55" stroke-width="1"/>
<rect x="913.4" y="229.6" width="12.0" height="8.0" rx="4.0" transform="rotate(0.0 919.4 233.6)" fill="url(#gAnt)" stroke="#E9953F" stroke-width="1.2"/>
<line x1="931" y1="176" x2="947" y2="165" stroke="#A576C9" stroke-width="1.6"/>
<line x1="936" y1="183" x2="952" y2="171" stroke="#A576C9" stroke-width="1.6"/>
<line x1="896" y1="182.5" x2="934" y2="160" stroke="#5E78C8" stroke-width="6.4" stroke-linecap="round"/>
<line x1="896" y1="182.5" x2="934" y2="160" stroke="#7690E0" stroke-width="4.8" stroke-linecap="round"/>
<line x1="920" y1="179.5" x2="931.5" y2="173" stroke="#A568C6" stroke-width="5.6" stroke-linecap="round"/>
<line x1="925.5" y1="186" x2="936" y2="179.5" stroke="#A568C6" stroke-width="5.6" stroke-linecap="round"/>
<line x1="908" y1="187" x2="920" y2="179.5" stroke="#F7B52C" stroke-width="6.2"/>
<line x1="913.5" y1="193.5" x2="925.5" y2="186" stroke="#F7B52C" stroke-width="6.2"/>
<clipPath id="tcclip"><path d="M1012.0 3.8C1020.3 4.0 1030.3 5.1 1040.0 8.5C1049.7 11.9 1060.0 17.1 1070.0 24.0C1080.0 30.9 1091.7 40.0 1100.0 50.0C1108.3 60.0 1115.2 72.3 1120.0 84.0C1124.8 95.7 1128.0 109.0 1129.0 120.0C1130.0 131.0 1129.2 141.3 1126.0 150.0C1122.8 158.7 1117.7 165.7 1110.0 172.0C1102.3 178.3 1091.7 184.2 1080.0 188.0C1068.3 191.8 1053.3 193.9 1040.0 194.5C1026.7 195.1 1013.6 194.2 1000.0 191.5C986.4 188.8 970.4 185.1 958.5 178.5C946.6 171.9 935.6 161.8 928.5 152.0C921.4 142.2 918.2 130.3 916.0 120.0C913.8 109.7 913.8 99.8 915.0 90.0C916.2 80.2 918.5 70.5 923.0 61.0C927.5 51.5 934.2 40.8 942.0 33.0C949.8 25.2 962.0 18.3 970.0 14.0C978.0 9.7 983.0 8.7 990.0 7.0C997.0 5.3 1003.7 3.5 1012.0 3.8Z"/></clipPath>
<path d="M1012.0 3.8C1020.3 4.0 1030.3 5.1 1040.0 8.5C1049.7 11.9 1060.0 17.1 1070.0 24.0C1080.0 30.9 1091.7 40.0 1100.0 50.0C1108.3 60.0 1115.2 72.3 1120.0 84.0C1124.8 95.7 1128.0 109.0 1129.0 120.0C1130.0 131.0 1129.2 141.3 1126.0 150.0C1122.8 158.7 1117.7 165.7 1110.0 172.0C1102.3 178.3 1091.7 184.2 1080.0 188.0C1068.3 191.8 1053.3 193.9 1040.0 194.5C1026.7 195.1 1013.6 194.2 1000.0 191.5C986.4 188.8 970.4 185.1 958.5 178.5C946.6 171.9 935.6 161.8 928.5 152.0C921.4 142.2 918.2 130.3 916.0 120.0C913.8 109.7 913.8 99.8 915.0 90.0C916.2 80.2 918.5 70.5 923.0 61.0C927.5 51.5 934.2 40.8 942.0 33.0C949.8 25.2 962.0 18.3 970.0 14.0C978.0 9.7 983.0 8.7 990.0 7.0C997.0 5.3 1003.7 3.5 1012.0 3.8Z" fill="#B6C59B"/>
<g clip-path="url(#tcclip)">
<path d="M1075 20 C1120 60 1140 120 1120 170 C1100 200 1060 200 1030 196 C1080 180 1105 150 1108 115 C1110 80 1098 48 1075 20 Z" fill="#A9BB8C" opacity="0.8" filter="url(#blur3)"/>
<path d="M1012.0 3.8C1020.3 4.0 1030.3 5.1 1040.0 8.5C1049.7 11.9 1060.0 17.1 1070.0 24.0C1080.0 30.9 1091.7 40.0 1100.0 50.0C1108.3 60.0 1115.2 72.3 1120.0 84.0C1124.8 95.7 1128.0 109.0 1129.0 120.0C1130.0 131.0 1129.2 141.3 1126.0 150.0C1122.8 158.7 1117.7 165.7 1110.0 172.0C1102.3 178.3 1091.7 184.2 1080.0 188.0C1068.3 191.8 1053.3 193.9 1040.0 194.5C1026.7 195.1 1013.6 194.2 1000.0 191.5C986.4 188.8 970.4 185.1 958.5 178.5C946.6 171.9 935.6 161.8 928.5 152.0C921.4 142.2 918.2 130.3 916.0 120.0C913.8 109.7 913.8 99.8 915.0 90.0C916.2 80.2 918.5 70.5 923.0 61.0C927.5 51.5 934.2 40.8 942.0 33.0C949.8 25.2 962.0 18.3 970.0 14.0C978.0 9.7 983.0 8.7 990.0 7.0C997.0 5.3 1003.7 3.5 1012.0 3.8Z" fill="none" stroke="#C6D1AD" stroke-width="11" opacity="0.75"/>
</g>
<path d="M1012.0 3.8C1020.3 4.0 1030.3 5.1 1040.0 8.5C1049.7 11.9 1060.0 17.1 1070.0 24.0C1080.0 30.9 1091.7 40.0 1100.0 50.0C1108.3 60.0 1115.2 72.3 1120.0 84.0C1124.8 95.7 1128.0 109.0 1129.0 120.0C1130.0 131.0 1129.2 141.3 1126.0 150.0C1122.8 158.7 1117.7 165.7 1110.0 172.0C1102.3 178.3 1091.7 184.2 1080.0 188.0C1068.3 191.8 1053.3 193.9 1040.0 194.5C1026.7 195.1 1013.6 194.2 1000.0 191.5C986.4 188.8 970.4 185.1 958.5 178.5C946.6 171.9 935.6 161.8 928.5 152.0C921.4 142.2 918.2 130.3 916.0 120.0C913.8 109.7 913.8 99.8 915.0 90.0C916.2 80.2 918.5 70.5 923.0 61.0C927.5 51.5 934.2 40.8 942.0 33.0C949.8 25.2 962.0 18.3 970.0 14.0C978.0 9.7 983.0 8.7 990.0 7.0C997.0 5.3 1003.7 3.5 1012.0 3.8Z" fill="none" stroke="#7F9A66" stroke-width="3.2"/>
<path d="M984.0 33.0C994.0 32.3 1009.0 34.8 1020.0 38.0C1031.0 41.2 1041.7 45.7 1050.0 52.0C1058.3 58.3 1065.6 67.3 1070.0 76.0C1074.4 84.7 1076.2 95.0 1076.5 104.0C1076.8 113.0 1075.1 122.3 1072.0 130.0C1068.9 137.7 1065.0 144.8 1058.0 150.0C1051.0 155.2 1039.7 158.8 1030.0 161.0C1020.3 163.2 1010.0 164.0 1000.0 163.0C990.0 162.0 978.3 159.3 970.0 155.0C961.7 150.7 955.3 144.2 950.0 137.0C944.7 129.8 940.2 120.8 938.0 112.0C935.8 103.2 935.2 92.7 936.5 84.0C937.8 75.3 942.1 67.0 946.0 60.0C949.9 53.0 953.7 46.5 960.0 42.0C966.3 37.5 974.0 33.7 984.0 33.0Z" fill="#A8BA8C" stroke="#9AAE7F" stroke-width="1.2"/>
<path d="M972.2 39.7C976.5 38.5 982.7 38.2 987.6 38.4C992.5 38.7 996.3 40.0 1001.7 41.0C1007.0 42.0 1014.5 42.9 1019.6 44.2C1024.7 45.5 1028.1 46.8 1032.4 48.7C1036.7 50.6 1040.9 52.6 1045.2 55.7C1049.5 58.8 1054.4 63.4 1058.0 67.2C1061.6 71.1 1064.8 74.7 1067.0 78.8C1069.1 82.8 1069.9 87.3 1070.8 91.6C1071.7 95.8 1072.3 100.1 1072.1 104.4C1071.9 108.6 1070.6 113.3 1069.5 117.2C1068.5 121.0 1067.0 124.0 1065.7 127.4C1064.4 130.8 1063.4 134.4 1061.8 137.6C1060.2 140.8 1058.2 144.0 1056.1 146.6C1053.9 149.2 1051.9 151.3 1049.0 153.0C1046.2 154.7 1042.6 155.9 1038.8 156.8C1035.0 157.8 1030.5 158.1 1026.0 158.8C1021.5 159.4 1016.4 160.5 1011.9 160.7C1007.4 160.9 1003.4 160.7 999.1 160.0C994.9 159.4 990.2 157.8 986.3 156.8C982.5 155.9 979.3 155.2 976.1 154.3C972.9 153.3 969.7 152.4 967.1 151.1C964.6 149.8 962.6 148.4 960.7 146.6C958.8 144.8 956.7 142.8 955.6 140.2C954.5 137.6 955.4 134.0 954.3 131.2C953.3 128.5 950.9 126.3 949.2 123.6C947.5 120.8 945.6 117.8 944.1 114.6C942.6 111.4 940.9 107.8 940.2 104.4C939.6 100.9 939.8 98.0 940.2 94.1C940.7 90.3 941.7 85.6 942.8 81.3C943.9 77.1 944.9 72.8 946.6 68.5C948.3 64.3 950.5 59.6 953.0 55.7C955.6 51.9 958.8 48.1 962.0 45.5C965.2 42.8 968.0 40.9 972.2 39.7Z" fill="#9B5CA8"/>
<path d="M972.2 63.4L977.4 57.6L980.6 62.1L985.7 64.7L988.2 58.9L995.3 54.2L1001.0 62.8L1009.4 62.1L1013.2 58.9L1017.0 59.6L1018.3 62.8L1031.1 62.1L1032.4 67.2L1028.6 71.1L1027.3 78.8L1024.7 81.3L1019.6 80.0L1006.8 79.4L1003.6 81.3L1006.8 89.0L1011.9 95.4L1017.0 101.8L1014.5 103.7L1006.8 99.2L999.1 94.1L991.4 89.0L983.8 83.9L977.4 81.3L974.2 76.2L972.2 68.5Z" fill="#C5A3D0" stroke="#C5A3D0" stroke-width="1.2" stroke-linejoin="round"/>
<path d="M957.5 81.3L962.0 76.2L971.0 78.1L974.2 81.3L976.7 89.0L978.6 94.1L983.8 96.7L990.2 100.5L994.0 105.0L986.3 101.8L978.6 99.9L968.4 98.6L959.4 99.2L954.3 101.8L951.1 100.5L950.5 91.6L953.7 83.9Z" fill="#C5A3D0" stroke="#C5A3D0" stroke-width="1.2" stroke-linejoin="round"/>
<path d="M951.1 101.8L959.4 99.9L964.6 104.4L969.7 110.8L973.5 118.4L974.8 127.4L974.2 131.2L981.2 130.6L987.6 128.7L994.0 124.8L996.6 122.3L995.3 114.6L993.4 108.2L994.0 105.6L1001.7 106.9L1011.9 109.5L1018.3 108.2L1022.2 113.3L1023.4 121.0L1026.0 127.4L1024.7 131.2L1017.0 131.2L1013.2 138.9L1006.8 137.6L999.1 140.8L988.9 140.2L978.6 137.6L973.5 133.8L969.7 130.0L963.3 122.3L958.2 114.6L954.3 108.2Z" fill="#C5A3D0" stroke="#C5A3D0" stroke-width="1.2" stroke-linejoin="round"/>
<path d="M1017.0 101.8L1019.6 96.7L1024.7 91.6L1029.8 87.7L1031.1 84.5L1036.2 86.4L1042.6 89.0L1047.8 94.1L1051.0 101.8L1051.6 109.5L1053.5 114.6L1050.3 119.7L1045.2 123.6L1040.1 124.2L1038.8 121.0L1041.4 117.2L1042.0 109.5L1040.1 105.6L1032.4 103.7L1027.3 105.0L1024.7 110.8L1021.5 113.3L1018.3 108.2Z" fill="#C5A3D0" stroke="#C5A3D0" stroke-width="1.2" stroke-linejoin="round"/>
<path d="M1030.5 128.7L1036.2 125.5L1040.7 126.1L1043.9 132.5L1040.1 135.1L1038.8 140.2L1035.0 136.4L1032.4 132.5Z" fill="#C5A3D0" stroke="#C5A3D0" stroke-width="1.2" stroke-linejoin="round"/>
<line x1="76.0" y1="129.0" x2="238.5" y2="331.0" stroke="#000" stroke-width="1.9"/>
<line x1="87.5" y1="204.5" x2="232.5" y2="343.0" stroke="#000" stroke-width="1.9"/>
<line x1="418.0" y1="178.0" x2="348.0" y2="230.0" stroke="#000" stroke-width="1.9"/>
<line x1="537.0" y1="398.5" x2="373.0" y2="426.5" stroke="#000" stroke-width="1.9"/>
<line x1="460.5" y1="438.0" x2="609.5" y2="479.4" stroke="#000" stroke-width="1.9"/>
<line x1="418.0" y1="523.0" x2="485.0" y2="529.0" stroke="#000" stroke-width="1.9"/>
<line x1="357.5" y1="528.0" x2="445.0" y2="591.0" stroke="#000" stroke-width="1.9"/>
<path d="M158 555 L325 729 L325 579" fill="none" stroke="#000" stroke-width="1.9" stroke-linejoin="miter"/>
<line x1="512.0" y1="718.0" x2="570.5" y2="802.0" stroke="#000" stroke-width="1.9"/>
<line x1="850.0" y1="67.0" x2="914.8" y2="183.8" stroke="#000" stroke-width="3.1"/>
<line x1="1147.5" y1="31.5" x2="1106.0" y2="60.0" stroke="#000" stroke-width="3.1"/>
<circle cx="403.5" cy="97.0" r="14.1" fill="#fff" stroke="#000" stroke-width="1.7"/>
<circle cx="893.0" cy="318.5" r="14.1" fill="#fff" stroke="#000" stroke-width="1.7"/>
<circle cx="632.0" cy="479.4" r="14.1" fill="#fff" stroke="#000" stroke-width="1.7"/>
<circle cx="426.0" cy="857.0" r="14.1" fill="#fff" stroke="#000" stroke-width="1.7"/>
<rect x="732" y="664" width="513.5" height="97.3" fill="#fff" stroke="#000" stroke-width="2"/>
<path d="M742.8 677.8 h13 v-6 l19.2 11.7 l-19.2 11.7 v-6 h-13 z" fill="#6F8B5E"/>
<path d="M742.8 706.8 h13 v-6 l19.2 11.7 l-19.2 11.7 v-6 h-13 z" fill="#F28A1F"/>
<path d="M742.8 735.8 h13 v-6 l19.2 11.7 l-19.2 11.7 v-6 h-13 z" fill="#D0342A"/><g font-family="'Liberation Sans', Arial, Helvetica, sans-serif" fill="#000"><text x="10.0" y="137.0" font-size="20.8" text-anchor="start" >MHC I</text>
<text x="10.0" y="160.0" font-size="20.8" text-anchor="start" >protein</text>
<text x="9.5" y="208.5" font-size="20.8" text-anchor="start" >Peptide-</text>
<text x="9.5" y="231.5" font-size="20.8" text-anchor="start" >binding</text>
<text x="9.5" y="254.5" font-size="20.8" text-anchor="start" >cleft</text>
<text x="425.5" y="103.6" font-size="20.8" text-anchor="start" >The MHC proteins, now carrying</text>
<text x="425.5" y="126.6" font-size="20.8" text-anchor="start" >antigens, are released from the vesicle</text>
<text x="425.5" y="149.6" font-size="20.8" text-anchor="start" >and travel to the outer surface of the</text>
<text x="425.5" y="172.6" font-size="20.8" text-anchor="start" >cell membrane.</text>
<text x="915.2" y="324.7" font-size="20.8" text-anchor="start" >The dendritic cell is now</text>
<text x="915.2" y="347.7" font-size="20.8" text-anchor="start" >presenting antigens, which will</text>
<text x="915.2" y="370.7" font-size="20.8" text-anchor="start" >activate T cells that bind with the</text>
<text x="915.2" y="393.7" font-size="20.8" text-anchor="start" >MHC proteins.</text>
<text x="653.0" y="486.0" font-size="20.8" text-anchor="start" >The antigens bind</text>
<text x="653.0" y="509.0" font-size="20.8" text-anchor="start" >with MHC proteins</text>
<text x="653.0" y="532.0" font-size="20.8" text-anchor="start" >that enter the vesicle.</text>
<text x="448.0" y="863.4" font-size="20.8" text-anchor="start" >A pathogen or extracellular antigen is</text>
<text x="448.0" y="886.4" font-size="20.8" text-anchor="start" >phagocytized by an antigen-presenting</text>
<text x="448.0" y="909.4" font-size="20.8" text-anchor="start" >cell (dendritic cell here) and placed into</text>
<text x="448.0" y="932.4" font-size="20.8" text-anchor="start" >a vesicle. Ingested pathogens are</text>
<text x="448.0" y="955.4" font-size="20.8" text-anchor="start" >digested by lysosomes to extract their</text>
<text x="448.0" y="978.4" font-size="20.8" text-anchor="start" >antigens.</text>
<text x="804.0" y="23.2" font-size="20.8" text-anchor="start" >T cell</text>
<text x="804.0" y="46.2" font-size="20.8" text-anchor="start" >receptor</text>
<text x="1120.0" y="23.2" font-size="20.8" text-anchor="start" >T cell</text>
<text x="546.0" y="404.9" font-size="20.8" text-anchor="start" >Antigen from</text>
<text x="546.0" y="427.9" font-size="20.8" text-anchor="start" >digested pathogen</text>
<text x="487.5" y="535.6" font-size="20.8" text-anchor="start" >MHC II</text>
<text x="487.5" y="558.6" font-size="20.8" text-anchor="start" >protein</text>
<text x="455.5" y="600.5" font-size="20.8" text-anchor="start" >Lysosome</text>
<text x="455.5" y="623.5" font-size="20.8" text-anchor="start" >releasing digestive</text>
<text x="455.5" y="646.5" font-size="20.8" text-anchor="start" >enzymes</text>
<text x="292.0" y="753.0" font-size="20.8" text-anchor="start" >Vesicles</text>
<text x="579.0" y="812.0" font-size="20.8" text-anchor="start" >Pathogen</text>
<text x="780.5" y="688.8" font-size="20.8" text-anchor="start" >Antigen acquired from inside the dendritic cell</text>
<text x="780.5" y="717.8" font-size="20.8" text-anchor="start" >Antigen acquired from outside of the dendritic cell</text>
<text x="780.5" y="746.8" font-size="20.8" text-anchor="start" >Antigen presentation</text>
<text x="403.5" y="104.0" font-size="19.5" font-weight="bold" text-anchor="middle">3</text>
<text x="893.0" y="325.5" font-size="19.5" font-weight="bold" text-anchor="middle">4</text>
<text x="632.0" y="486.4" font-size="19.5" font-weight="bold" text-anchor="middle">2</text>
<text x="426.0" y="864.0" font-size="19.5" font-weight="bold" text-anchor="middle">1</text></g></svg>
</body></html>
